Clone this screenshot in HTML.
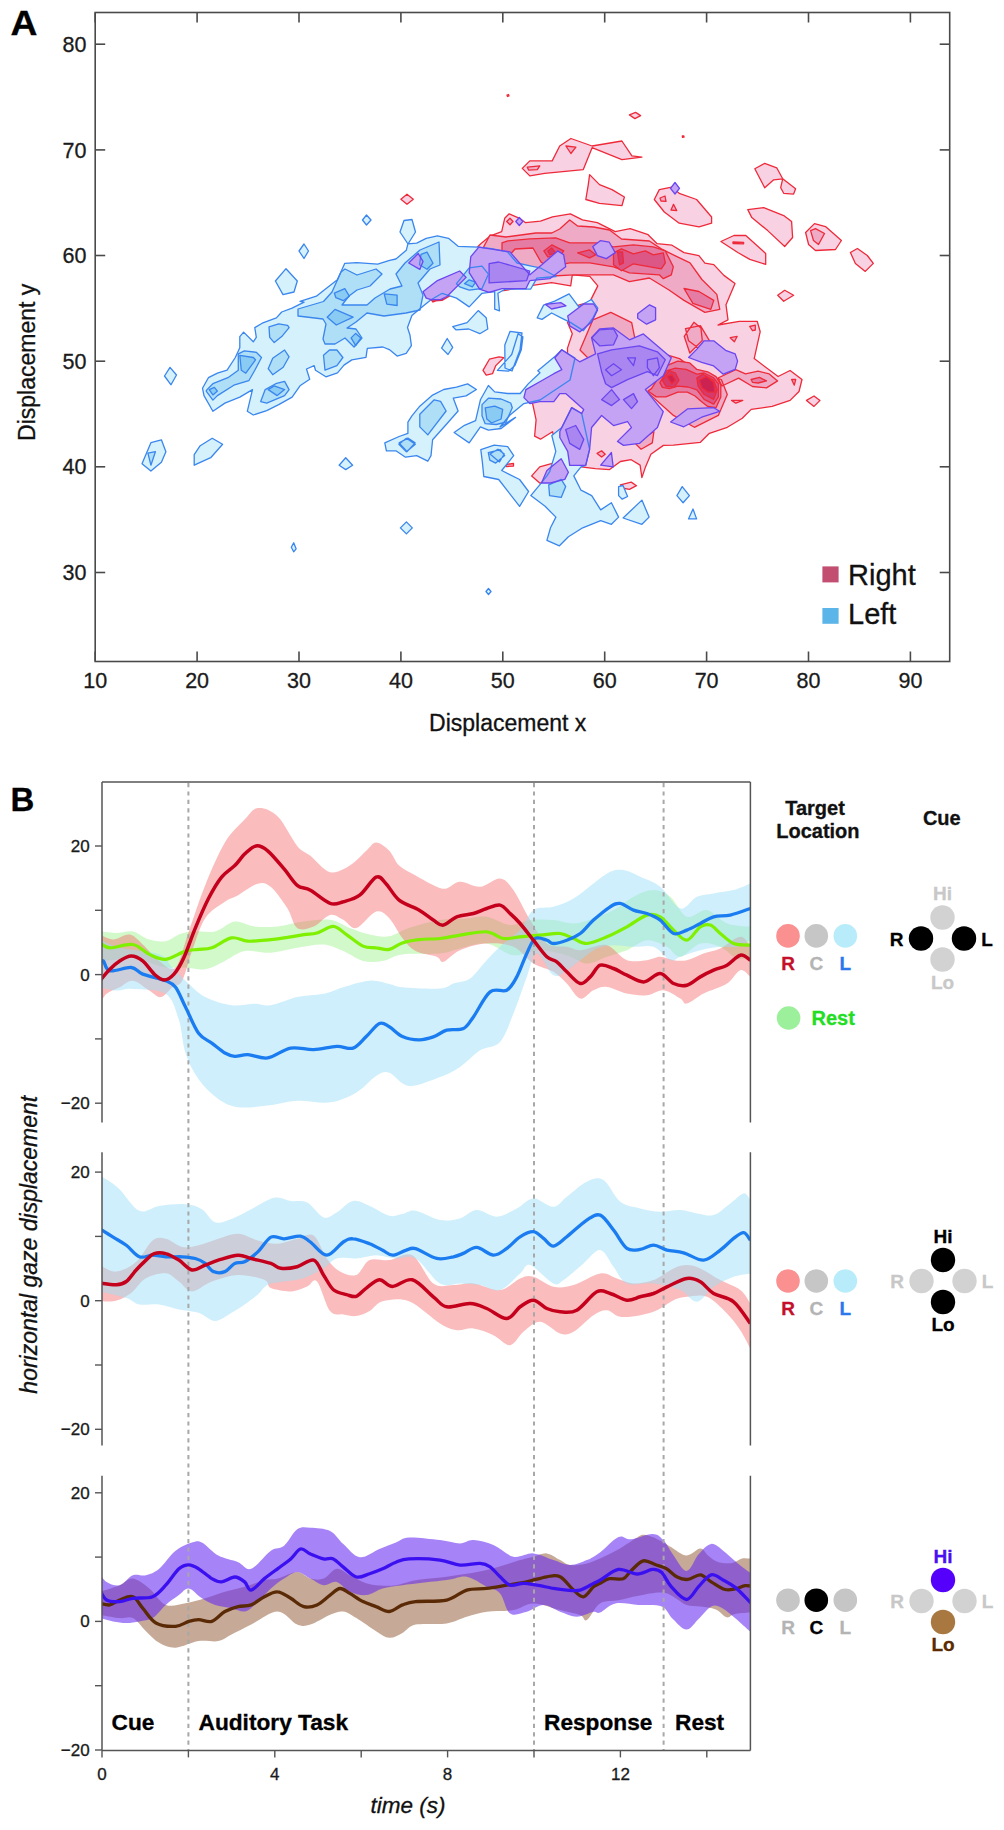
<!DOCTYPE html><html><head><meta charset="utf-8"><style>html,body{margin:0;padding:0;background:#fff;width:1004px;height:1830px;overflow:hidden;position:relative}</style></head><body><svg width="1004" height="1830" viewBox="0 0 1004 1830" style="position:absolute;left:0;top:0">
<rect width="1004" height="1830" fill="#fff"/>
<g id="contours">
<path d="M480.8,243.7 L489.8,236.2 L501.7,231.7 L504.7,218.3 L509.2,213.8 L519.6,218.3 L525.6,222.7 L540.5,221.2 L552.5,216.8 L570.4,213.8 L582.4,219.8 L597.3,222.7 L615.2,231.7 L630.2,228.7 L648.1,234.7 L657.1,243.7 L672.0,245.2 L684.0,252.6 L698.9,255.6 L704.9,263.1 L713.8,264.6 L723.9,275.4 L735.0,283.5 L726.0,304.8 L728.0,319.8 L718.0,325.0 L739.3,321.3 L757.2,321.3 L760.2,331.7 L754.2,358.6 L778.1,376.5 L790.1,370.5 L802.0,379.5 L799.0,391.5 L790.1,400.4 L772.1,406.4 L751.2,409.4 L742.3,418.3 L727.3,427.3 L709.4,433.3 L700.4,442.3 L673.5,445.2 L663.4,445.4 L650.9,454.3 L645.5,466.9 L641.9,477.6 L640.1,465.1 L631.2,459.7 L620.4,461.5 L609.6,469.6 L595.3,468.7 L581.0,466.9 L560.0,462.0 L552.5,431.7 L540.5,439.2 L534.6,436.2 L536.1,419.8 L531.6,398.8 L545.0,385.0 L560.0,362.0 L567.5,356.1 L567.5,348.1 L572.3,333.7 L567.5,322.6 L578.6,305.1 L589.8,301.9 L597.8,285.9 L589.8,276.4 L572.3,274.8 L570.7,285.9 L551.6,282.7 L529.2,285.9 L503.7,290.7 L480.8,288.5 L460.0,290.0 L442.0,300.4 L432.0,301.0 L426.0,292.0 L440.0,280.0 L462.0,262.0Z M522.3,168.4 L529.8,160.9 L552.2,160.9 L559.7,146.0 L570.9,138.5 L592.1,146.0 L621.9,141.0 L631.9,155.9 L641.9,157.2 L621.9,159.7 L592.1,147.7 L583.3,169.6 L544.7,173.4 L529.8,175.9Z M589.6,174.6 L599.5,184.6 L612.0,189.6 L624.4,197.0 L621.9,205.7 L599.5,203.3 L585.8,199.5 L588.3,184.6Z M659.3,189.6 L671.7,187.1 L679.2,193.3 L696.6,199.5 L711.6,217.0 L711.6,223.2 L699.1,226.9 L679.2,223.2 L664.3,212.0 L654.3,199.5Z M629.4,114.9 L635.6,112.4 L640.6,115.6 L634.9,118.6Z M754.8,168.8 L764.7,163.4 L776.7,167.8 L782.7,178.8 L773.7,179.8 L764.7,187.7Z M782.7,178.8 L795.6,188.7 L793.6,194.1 L783.7,193.3 L780.7,187.7Z M747.8,209.6 L763.7,207.6 L783.7,215.6 L791.6,221.6 L792.6,237.5 L784.7,246.5 L767.7,230.6 L751.8,217.6Z M720.9,241.5 L733.9,235.5 L745.8,235.5 L765.7,253.5 L765.7,264.4 L749.8,259.4 L737.8,252.5Z M805.6,232.5 L814.5,223.6 L825.5,226.6 L841.4,240.5 L835.5,249.5 L815.5,250.5 L808.6,244.5Z M850.4,252.5 L857.4,248.5 L867.3,255.5 L873.3,263.4 L865.3,271.4 L855.4,263.4Z M777.7,295.3 L784.7,290.3 L793.6,295.3 L783.7,301.3Z M806.5,400.4 L814.0,396.0 L820.0,400.4 L814.0,406.4Z M400.9,199.2 L407.0,194.2 L413.3,199.2 L407.0,204.2Z M483.0,370.4 L489.4,359.2 L499.0,356.9 L503.7,357.7 L495.8,365.6 L492.6,373.6 L486.2,375.2Z M428.0,296.0 L436.0,288.0 L446.0,292.0 L442.0,299.0 L433.0,302.0Z M531.7,475.9 L539.7,466.9 L552.3,463.3 L568.4,472.3 L550.5,483.0 L539.7,483.0Z M620.4,484.8 L631.2,482.1 L636.5,485.7 L629.4,489.3 L622.0,488.0Z M506.0,464.5 L513.5,463.5 L513.5,466.0 L506.0,466.5Z" fill="#f8d2e2" fill-rule="nonzero" stroke="#ee2a3a" stroke-width="1.3" stroke-linejoin="round"/>
<path d="M483.8,246.6 L490.0,235.0 L506.0,237.0 L535.8,233.0 L551.8,233.0 L559.7,229.0 L569.7,220.0 L577.6,226.0 L593.6,227.0 L609.5,230.0 L621.5,239.0 L649.4,241.0 L661.3,248.9 L673.3,254.8 L690.0,262.8 L701.9,279.5 L716.8,294.4 L719.8,309.4 L704.9,312.4 L684.0,300.4 L669.0,290.0 L649.4,278.0 L629.4,281.7 L613.5,274.8 L573.7,274.8 L543.5,276.5 L509.9,284.0 L489.8,286.0 L472.0,288.0Z M592.9,319.8 L610.8,312.3 L631.7,322.7 L634.7,337.7 L649.6,349.6 L679.5,358.6 L700.4,373.5 L721.3,379.5 L727.3,394.4 L718.3,415.4 L694.4,427.3 L673.5,415.4 L646.6,391.5 L630.0,380.0 L600.0,370.0 L580.0,350.0Z M685.5,328.7 L700.4,325.7 L709.4,340.7 L700.4,349.6 L688.5,340.7Z M735.8,369.7 L745.5,373.9 L758.1,371.1 L769.2,373.9 L777.6,380.9 L766.5,387.9 L752.5,386.5 L738.6,378.1 L722.0,386.0 L718.0,378.0Z M684.2,336.3 L693.9,322.3 L700.9,327.9 L702.3,340.4 L689.8,353.0Z M749.7,326.5 L755.3,325.1 L755.3,330.0 L752.5,330.7Z M730.2,337.7 L737.2,336.3 L734.4,341.8Z M731.6,400.4 L742.8,400.4 L735.8,403.2Z M791.6,379.5 L795.7,379.5 L794.3,385.1Z M634.7,442.9 L653.9,431.7 L652.3,442.9 L641.1,449.2Z M597.1,453.4 L601.6,450.8 L605.2,454.3 L601.6,457.0Z M810.6,230.6 L815.5,228.6 L824.5,233.5 L818.5,244.5 L813.5,240.5Z M565.9,146.0 L575.9,147.2 L570.9,153.5Z M527.3,167.2 L539.8,165.9 L537.3,169.6 L528.6,170.1Z M506.7,221.5 L510.0,218.3 L513.0,221.5 L510.0,224.7Z M660.0,198.0 L665.0,196.0 L666.0,201.4 L661.0,201.0Z M671.0,210.0 L673.5,204.3 L676.7,210.6Z M733.0,242.0 L743.6,242.3 L743.6,243.8 L733.0,243.5Z M507.0,95.0 L508.5,94.5 L509.0,96.0 L507.5,96.5Z M682.3,136.0 L683.8,135.8 L684.0,137.2 L682.5,137.4Z" fill="#efaac5" fill-rule="nonzero" stroke="#ee2a3a" stroke-width="1.3" stroke-linejoin="round"/>
<path d="M751.1,379.5 L759.5,377.4 L766.5,380.9 L758.1,383.0 L752.5,382.3Z M502.0,242.9 L507.9,240.9 L529.8,238.9 L555.7,237.9 L569.7,242.9 L583.6,242.9 L597.6,242.9 L613.5,246.9 L633.4,244.9 L653.3,246.9 L665.3,250.9 L673.3,266.8 L671.3,274.8 L663.3,278.7 L659.3,274.8 L629.4,272.8 L613.5,266.8 L589.6,262.8 L569.7,262.8 L559.7,264.8 L547.8,266.8 L541.0,262.0 L533.0,248.0 L515.0,249.0 L509.9,254.8 L502.0,252.8Z M684.0,288.5 L698.9,291.5 L713.8,300.4 L710.8,309.4 L692.9,303.4Z M651.5,388.6 L665.9,365.9 L677.8,361.1 L689.8,362.9 L696.9,369.4 L707.7,371.8 L716.0,376.6 L720.8,385.0 L720.8,396.9 L716.0,407.7 L707.7,406.5 L701.7,401.7 L695.0,396.0 L687.4,392.1 L677.8,392.1 L665.9,396.9 L656.3,396.9 L647.9,391.0Z" fill="#e57ca3" fill-rule="nonzero" stroke="#ee2a3a" stroke-width="1.3" stroke-linejoin="round"/>
<path d="M543.8,250.9 L551.8,244.9 L563.7,250.9 L559.7,256.8 L547.8,256.8Z M577.6,252.8 L589.6,249.9 L595.6,254.8 L589.6,257.8Z M613.5,252.8 L621.5,248.9 L633.4,253.8 L645.4,250.9 L653.3,254.8 L663.3,252.8 L665.3,262.8 L661.3,268.8 L633.4,263.8 L621.5,270.8 L613.5,264.8Z M659.9,382.6 L667.0,370.6 L675.4,368.2 L686.2,369.4 L696.9,374.2 L704.1,373.0 L713.7,377.8 L718.4,383.8 L718.4,396.9 L713.7,404.1 L704.1,399.3 L696.9,389.8 L688.0,387.0 L677.8,386.2 L669.4,388.6 L662.3,387.4Z" fill="#dc5686" fill-rule="nonzero" stroke="#ee2a3a" stroke-width="1.3" stroke-linejoin="round"/>
<path d="M547.8,250.9 L551.8,247.9 L555.7,252.8 L549.8,254.8Z M617.5,251.9 L622.5,251.9 L623.5,262.8 L619.5,264.8Z M662.3,380.2 L669.4,370.6 L675.4,373.0 L679.0,380.2 L674.2,387.4 L665.9,386.2Z M696.9,377.8 L702.9,374.2 L713.7,380.2 L717.2,389.8 L713.7,399.3 L704.1,394.5 L698.1,386.2Z" fill="#d43a6c" fill-rule="nonzero" stroke="#ee2a3a" stroke-width="1.3" stroke-linejoin="round"/>
<path d="M699.3,380.2 L706.5,376.6 L713.7,382.6 L714.9,392.1 L707.7,392.1 L701.7,387.4Z M667.0,376.6 L671.8,374.2 L675.4,380.2 L671.8,383.8Z" fill="#cc2252" fill-rule="nonzero" stroke="#ee2a3a" stroke-width="1.3" stroke-linejoin="round"/>
<path d="M212.9,411.3 L204.0,395.6 L202.5,388.2 L208.4,377.7 L217.4,373.2 L227.1,370.2 L235.3,357.5 L239.8,347.8 L239.8,336.6 L243.6,332.1 L253.3,341.8 L256.3,337.4 L254.8,327.6 L262.2,323.2 L276.4,317.9 L281.7,312.0 L292.1,308.2 L304.1,302.2 L300.0,301.4 L316.4,296.2 L323.9,290.2 L337.4,279.8 L344.8,263.3 L356.8,262.6 L377.7,264.1 L389.6,260.3 L395.9,259.0 L406.3,250.3 L407.9,243.9 L416.7,243.1 L426.2,238.3 L437.4,235.9 L448.5,238.3 L458.1,246.3 L478.8,247.1 L491.6,248.7 L507.5,251.9 L517.1,263.0 L531.4,266.2 L540.0,267.8 L556.0,276.5 L536.9,278.1 L530.6,289.2 L505.1,289.2 L497.9,293.3 L499.5,310.8 L494.7,309.2 L494.7,291.7 L482.0,293.3 L469.2,306.9 L456.5,298.1 L442.2,293.3 L431.0,299.7 L421.4,307.6 L411.9,315.6 L407.5,327.5 L410.0,335.3 L411.4,345.7 L406.2,353.4 L397.1,356.0 L389.3,349.6 L382.9,347.0 L367.3,348.3 L366.0,357.3 L351.8,359.9 L344.0,365.1 L337.5,372.9 L325.9,376.8 L315.5,370.3 L314.2,365.7 L306.5,369.0 L309.7,379.3 L300.0,385.8 L292.1,397.1 L278.7,404.6 L266.7,410.6 L253.3,415.0 L247.3,411.3 L252.5,389.6 L239.8,397.1 L224.9,403.1Z M275.4,281.0 L286.0,268.7 L297.3,281.0 L294.0,292.0 L283.0,294.6Z M299.0,251.0 L304.0,244.0 L308.5,251.0 L304.0,258.5Z M362.5,220.0 L366.5,215.0 L371.0,220.0 L366.5,225.0Z M400.0,232.0 L404.0,220.5 L412.0,219.5 L415.5,232.0 L408.0,244.0Z M142.0,463.7 L150.9,442.7 L161.4,439.8 L165.9,451.7 L161.4,462.2 L150.9,471.1Z M194.2,454.7 L200.2,445.7 L212.2,438.3 L222.6,444.2 L210.7,457.7 L194.2,465.2Z M339.1,465.2 L345.7,457.7 L352.6,465.2 L345.7,469.6Z M400.4,527.9 L406.4,521.9 L412.3,527.9 L406.4,533.9Z M291.3,547.3 L293.7,542.8 L296.1,548.8 L293.7,551.8Z M164.5,376.0 L170.0,367.4 L176.5,375.0 L171.0,384.8Z M486.0,591.5 L488.5,588.5 L491.0,591.5 L488.5,594.5Z M384.8,442.9 L399.1,436.5 L407.9,433.3 L407.9,422.2 L411.9,415.8 L419.8,406.2 L432.6,395.1 L443.7,389.5 L456.5,387.1 L467.6,383.9 L476.4,389.5 L466.1,395.9 L453.3,398.2 L458.1,411.0 L446.9,423.7 L432.6,439.7 L431.0,455.6 L427.8,461.2 L416.7,455.6 L405.5,457.2 L395.9,450.8 L386.4,450.8Z M454.1,432.5 L464.5,425.3 L475.6,420.6 L480.4,399.8 L488.4,385.5 L494.7,391.9 L507.5,393.5 L520.2,393.5 L528.2,383.9 L540.0,372.7 L537.8,370.7 L555.8,355.8 L561.8,349.8 L575.0,358.0 L570.0,380.0 L540.0,400.0 L523.9,403.6 L510.0,415.0 L500.0,427.0 L515.5,417.4 L501.1,428.5 L488.4,430.1 L480.4,426.9 L469.2,442.9Z M480.8,449.6 L494.2,445.2 L507.7,446.6 L513.7,455.6 L501.7,470.5 L519.6,479.5 L528.6,491.5 L519.6,506.4 L498.7,479.5 L483.8,476.5 L482.3,461.6Z M452.7,326.6 L467.1,322.6 L478.2,310.6 L486.2,317.8 L487.8,329.0 L479.8,333.7 L468.7,329.0 L455.9,329.8Z M441.6,348.1 L447.2,338.5 L452.7,347.3 L448.0,354.5Z M497.4,370.4 L511.7,354.5 L518.1,333.7 L522.9,336.9 L521.3,349.7 L514.9,365.6 L508.5,371.2Z M537.2,317.8 L543.6,305.1 L554.7,301.1 L569.1,293.9 L578.6,306.7 L591.4,299.5 L597.8,308.2 L593.0,317.8 L583.4,330.6 L570.7,322.6 L561.1,317.8 L551.6,313.0 L542.0,319.4Z M504.8,345.0 L510.0,331.4 L522.0,333.0 L520.0,350.0 L512.0,371.0 L505.0,368.0Z M561.8,427.5 L571.7,407.6 L581.7,413.5 L589.6,449.4 L585.7,465.3 L581.0,466.9 L573.8,475.9 L581.0,490.2 L591.7,495.6 L600.7,509.9 L611.4,502.7 L618.6,517.1 L611.4,524.3 L600.7,520.7 L582.7,527.8 L568.4,536.8 L559.4,545.8 L546.9,540.4 L550.5,527.8 L555.9,517.1 L545.1,506.3 L530.8,495.6 L539.7,484.8 L546.9,475.9 L549.8,471.3 L555.8,451.4 L551.8,435.5Z M618.6,486.6 L623.0,485.5 L627.6,496.5 L622.2,499.2 L618.6,495.6Z M623.1,518.0 L641.9,500.1 L649.1,517.1 L641.9,524.3Z M676.9,495.6 L682.2,486.6 L689.4,495.6 L683.1,502.7Z M688.5,518.9 L693.0,509.0 L696.6,518.9Z" fill="#d5f1fb" fill-rule="nonzero"/>
<path d="M207.0,389.6 L212.9,383.7 L227.9,377.7 L238.3,370.2 L238.3,353.8 L244.3,350.8 L256.3,352.3 L261.5,357.5 L254.8,370.2 L248.8,380.7 L233.8,385.2 L217.4,395.6 L212.9,400.1 L206.2,391.1Z M269.0,326.9 L278.7,323.9 L287.6,325.4 L289.1,327.6 L281.7,336.6 L274.2,342.6 L269.7,337.4Z M268.2,368.7 L272.7,358.3 L284.6,350.0 L289.1,356.8 L283.2,367.2 L272.7,374.7Z M260.7,401.6 L265.2,389.6 L275.7,383.7 L284.6,381.4 L289.1,389.6 L284.6,395.6 L266.7,403.1Z M323.5,355.3 L329.5,350.0 L336.9,350.0 L342.9,357.5 L336.9,365.7 L325.0,370.2Z M298.0,309.0 L323.5,301.5 L332.0,292.0 L341.0,272.0 L345.0,269.0 L357.0,275.0 L376.0,269.0 L382.0,274.0 L370.0,286.0 L357.0,290.0 L349.0,296.0 L342.0,305.0 L367.0,305.0 L375.0,298.0 L390.0,289.0 L402.0,286.0 L396.0,274.0 L405.0,263.0 L420.0,250.0 L439.0,242.0 L440.0,265.0 L430.0,269.0 L418.0,283.0 L423.0,295.0 L420.0,310.0 L406.0,313.0 L384.0,316.0 L367.0,313.0 L356.0,322.0 L347.0,328.0 L356.0,329.0 L362.0,338.0 L354.0,347.0 L345.0,338.0 L335.0,344.0 L325.0,344.0 L323.0,339.0 L326.0,324.0 L323.0,319.0 L298.0,316.0Z M456.5,283.7 L469.2,267.8 L482.0,266.2 L488.4,274.2 L482.0,288.5 L469.2,290.1 L459.7,286.9Z M419.8,414.2 L434.2,399.8 L440.6,401.4 L446.1,411.0 L427.8,434.9 L419.8,426.9Z M399.1,442.9 L407.9,438.1 L415.1,442.9 L407.1,451.6Z M482.0,404.6 L488.4,398.2 L501.1,399.0 L510.7,403.0 L512.3,407.8 L505.9,422.2 L496.3,424.5 L485.2,423.7 L482.0,415.8Z M490.0,454.0 L497.9,449.2 L504.3,454.0 L499.5,462.0Z M488.3,452.6 L500.2,449.6 L504.7,455.6 L495.7,463.1 L489.8,460.1Z M398.9,444.2 L406.4,438.3 L415.3,444.2 L406.4,451.7Z M548.7,484.8 L561.2,479.4 L565.7,486.6 L561.2,497.4 L549.6,495.6Z M147.9,453.2 L155.4,451.7 L150.9,465.2Z" fill="#afdef7" fill-rule="nonzero"/>
<path d="M327.2,317.2 L335.0,309.4 L353.1,317.2 L336.3,325.0Z M351.1,337.9 L355.7,333.4 L360.9,337.9 L355.7,345.7Z M384.2,293.9 L397.1,295.2 L397.1,305.5 L386.8,304.2Z M334.4,293.2 L344.8,288.7 L349.3,296.2 L343.3,300.7 L335.9,297.7Z M421.0,254.4 L427.0,252.1 L433.0,263.3 L427.0,269.3 L419.5,264.8Z M239.8,355.3 L253.3,357.5 L255.5,359.8 L245.8,373.2 L241.3,370.2Z M209.2,389.6 L214.4,387.4 L217.4,391.1 L212.9,394.9Z M268.2,389.6 L274.2,385.9 L284.6,389.6 L277.2,395.6Z M485.2,407.8 L494.7,406.2 L502.7,409.4 L501.1,419.0 L491.6,423.0 L486.8,419.0Z M464.5,283.7 L469.2,279.8 L475.6,282.2 L472.4,286.9Z" fill="#89cbf2" fill-rule="nonzero"/>
<path d="M470.8,256.7 L478.8,247.1 L490.0,248.9 L509.9,251.9 L529.8,274.8 L541.8,264.8 L557.7,250.9 L563.7,254.8 L565.7,266.8 L549.8,278.7 L529.8,280.7 L525.9,288.7 L502.0,288.7 L489.1,292.4 L479.6,289.2 L469.2,272.6Z M423.0,291.7 L437.4,280.6 L459.7,271.0 L466.1,277.4 L446.9,296.5 L440.6,299.7 L431.0,299.7 L426.2,298.1Z M408.7,263.0 L418.2,253.5 L423.0,261.4 L419.8,269.4Z M523.9,397.6 L525.9,389.6 L539.8,381.7 L553.8,373.7 L561.8,369.7 L554.8,357.8 L561.8,349.8 L579.7,361.8 L595.6,353.8 L591.6,337.8 L599.6,328.9 L613.5,327.9 L629.5,339.8 L643.4,333.9 L671.3,357.8 L663.3,375.7 L645.4,389.6 L663.3,411.6 L657.4,427.5 L639.4,443.4 L623.5,445.4 L617.5,441.4 L631.5,427.5 L627.5,421.5 L613.5,425.5 L601.6,415.5 L591.6,427.5 L589.6,449.4 L585.7,465.3 L569.7,465.3 L567.7,451.4 L559.8,437.5 L559.8,431.5 L569.7,411.6 L571.7,407.6 L581.7,413.5 L583.7,409.6 L565.7,393.6 L559.8,393.6 L553.8,401.6 L539.8,401.6 L529.9,403.6Z M567.7,315.9 L583.7,304.0 L593.6,304.0 L597.6,310.0 L591.6,321.9 L579.7,331.9 L569.7,325.9Z M545.2,304.3 L561.1,302.7 L565.9,305.9 L551.6,309.0Z M637.7,313.8 L649.6,304.8 L655.6,307.8 L655.6,319.8 L646.6,324.2 L637.7,318.3Z M688.6,357.5 L696.9,349.1 L704.1,340.8 L713.7,340.8 L725.6,350.3 L735.2,353.9 L737.6,361.1 L735.2,369.4 L723.2,374.2 L713.7,365.9 L701.7,362.3Z M670.6,422.0 L687.4,408.9 L713.7,407.7 L719.6,411.3 L701.7,417.2 L683.8,426.8Z M592.8,246.6 L600.3,240.7 L609.3,242.2 L615.2,252.6 L606.3,258.6 L597.3,255.6Z M541.5,483.0 L546.9,470.5 L561.2,458.8 L568.4,472.3 L564.8,479.4 L550.5,483.0Z M600.7,465.1 L611.4,452.5 L613.2,466.9Z M670.5,188.3 L675.0,182.5 L679.5,188.3 L675.0,194.0Z M515.8,221.5 L519.3,217.5 L522.8,221.5 L519.3,225.5Z" fill="#c4a2f4" fill-rule="nonzero"/>
<path d="M489.1,263.7 L498.7,262.0 L529.8,271.0 L526.6,280.6 L489.1,282.9Z M591.6,337.8 L599.6,329.9 L613.5,328.9 L617.5,335.9 L613.5,344.8 L599.6,345.8Z M597.6,353.8 L611.6,349.8 L639.4,345.8 L657.4,351.8 L665.3,359.8 L657.4,375.7 L647.4,371.7 L627.5,379.7 L611.6,387.6 L605.6,383.7 L601.6,371.7Z M601.6,399.6 L611.6,389.6 L619.5,399.6 L611.6,405.6Z M623.5,399.6 L633.5,393.6 L637.5,401.6 L631.5,408.6Z M565.7,429.5 L575.7,425.5 L583.7,439.4 L579.7,449.4 L569.7,443.4Z M605.6,369.7 L613.5,363.7 L621.5,369.7 L611.6,375.7Z M627.5,357.8 L635.5,357.8 L633.5,365.7Z M647.4,359.8 L657.4,357.8 L659.4,367.7 L653.4,375.7 L647.4,367.7Z" fill="#a986f0" fill-rule="nonzero" stroke="#6a46f0" stroke-width="1.3" stroke-linejoin="round"/>
<path d="M212.9,411.3 L204.0,395.6 L202.5,388.2 L208.4,377.7 L217.4,373.2 L227.1,370.2 L235.3,357.5 L239.8,347.8 L239.8,336.6 L243.6,332.1 L253.3,341.8 L256.3,337.4 L254.8,327.6 L262.2,323.2 L276.4,317.9 L281.7,312.0 L292.1,308.2 L304.1,302.2 L300.0,301.4 L316.4,296.2 L323.9,290.2 L337.4,279.8 L344.8,263.3 L356.8,262.6 L377.7,264.1 L389.6,260.3 L395.9,259.0 L406.3,250.3 L407.9,243.9 L416.7,243.1 L426.2,238.3 L437.4,235.9 L448.5,238.3 L458.1,246.3 L478.8,247.1 L491.6,248.7 L507.5,251.9 L517.1,263.0 L531.4,266.2 L540.0,267.8 L556.0,276.5 L536.9,278.1 L530.6,289.2 L505.1,289.2 L497.9,293.3 L499.5,310.8 L494.7,309.2 L494.7,291.7 L482.0,293.3 L469.2,306.9 L456.5,298.1 L442.2,293.3 L431.0,299.7 L421.4,307.6 L411.9,315.6 L407.5,327.5 L410.0,335.3 L411.4,345.7 L406.2,353.4 L397.1,356.0 L389.3,349.6 L382.9,347.0 L367.3,348.3 L366.0,357.3 L351.8,359.9 L344.0,365.1 L337.5,372.9 L325.9,376.8 L315.5,370.3 L314.2,365.7 L306.5,369.0 L309.7,379.3 L300.0,385.8 L292.1,397.1 L278.7,404.6 L266.7,410.6 L253.3,415.0 L247.3,411.3 L252.5,389.6 L239.8,397.1 L224.9,403.1Z M275.4,281.0 L286.0,268.7 L297.3,281.0 L294.0,292.0 L283.0,294.6Z M299.0,251.0 L304.0,244.0 L308.5,251.0 L304.0,258.5Z M362.5,220.0 L366.5,215.0 L371.0,220.0 L366.5,225.0Z M400.0,232.0 L404.0,220.5 L412.0,219.5 L415.5,232.0 L408.0,244.0Z M142.0,463.7 L150.9,442.7 L161.4,439.8 L165.9,451.7 L161.4,462.2 L150.9,471.1Z M194.2,454.7 L200.2,445.7 L212.2,438.3 L222.6,444.2 L210.7,457.7 L194.2,465.2Z M339.1,465.2 L345.7,457.7 L352.6,465.2 L345.7,469.6Z M400.4,527.9 L406.4,521.9 L412.3,527.9 L406.4,533.9Z M291.3,547.3 L293.7,542.8 L296.1,548.8 L293.7,551.8Z M164.5,376.0 L170.0,367.4 L176.5,375.0 L171.0,384.8Z M486.0,591.5 L488.5,588.5 L491.0,591.5 L488.5,594.5Z M384.8,442.9 L399.1,436.5 L407.9,433.3 L407.9,422.2 L411.9,415.8 L419.8,406.2 L432.6,395.1 L443.7,389.5 L456.5,387.1 L467.6,383.9 L476.4,389.5 L466.1,395.9 L453.3,398.2 L458.1,411.0 L446.9,423.7 L432.6,439.7 L431.0,455.6 L427.8,461.2 L416.7,455.6 L405.5,457.2 L395.9,450.8 L386.4,450.8Z M454.1,432.5 L464.5,425.3 L475.6,420.6 L480.4,399.8 L488.4,385.5 L494.7,391.9 L507.5,393.5 L520.2,393.5 L528.2,383.9 L540.0,372.7 L537.8,370.7 L555.8,355.8 L561.8,349.8 L575.0,358.0 L570.0,380.0 L540.0,400.0 L523.9,403.6 L510.0,415.0 L500.0,427.0 L515.5,417.4 L501.1,428.5 L488.4,430.1 L480.4,426.9 L469.2,442.9Z M480.8,449.6 L494.2,445.2 L507.7,446.6 L513.7,455.6 L501.7,470.5 L519.6,479.5 L528.6,491.5 L519.6,506.4 L498.7,479.5 L483.8,476.5 L482.3,461.6Z M452.7,326.6 L467.1,322.6 L478.2,310.6 L486.2,317.8 L487.8,329.0 L479.8,333.7 L468.7,329.0 L455.9,329.8Z M441.6,348.1 L447.2,338.5 L452.7,347.3 L448.0,354.5Z M497.4,370.4 L511.7,354.5 L518.1,333.7 L522.9,336.9 L521.3,349.7 L514.9,365.6 L508.5,371.2Z M537.2,317.8 L543.6,305.1 L554.7,301.1 L569.1,293.9 L578.6,306.7 L591.4,299.5 L597.8,308.2 L593.0,317.8 L583.4,330.6 L570.7,322.6 L561.1,317.8 L551.6,313.0 L542.0,319.4Z M504.8,345.0 L510.0,331.4 L522.0,333.0 L520.0,350.0 L512.0,371.0 L505.0,368.0Z M561.8,427.5 L571.7,407.6 L581.7,413.5 L589.6,449.4 L585.7,465.3 L581.0,466.9 L573.8,475.9 L581.0,490.2 L591.7,495.6 L600.7,509.9 L611.4,502.7 L618.6,517.1 L611.4,524.3 L600.7,520.7 L582.7,527.8 L568.4,536.8 L559.4,545.8 L546.9,540.4 L550.5,527.8 L555.9,517.1 L545.1,506.3 L530.8,495.6 L539.7,484.8 L546.9,475.9 L549.8,471.3 L555.8,451.4 L551.8,435.5Z M618.6,486.6 L623.0,485.5 L627.6,496.5 L622.2,499.2 L618.6,495.6Z M623.1,518.0 L641.9,500.1 L649.1,517.1 L641.9,524.3Z M676.9,495.6 L682.2,486.6 L689.4,495.6 L683.1,502.7Z M688.5,518.9 L693.0,509.0 L696.6,518.9Z" fill="none" fill-rule="nonzero" stroke="#3a86ee" stroke-width="1.3" stroke-linejoin="round"/>
<path d="M207.0,389.6 L212.9,383.7 L227.9,377.7 L238.3,370.2 L238.3,353.8 L244.3,350.8 L256.3,352.3 L261.5,357.5 L254.8,370.2 L248.8,380.7 L233.8,385.2 L217.4,395.6 L212.9,400.1 L206.2,391.1Z M269.0,326.9 L278.7,323.9 L287.6,325.4 L289.1,327.6 L281.7,336.6 L274.2,342.6 L269.7,337.4Z M268.2,368.7 L272.7,358.3 L284.6,350.0 L289.1,356.8 L283.2,367.2 L272.7,374.7Z M260.7,401.6 L265.2,389.6 L275.7,383.7 L284.6,381.4 L289.1,389.6 L284.6,395.6 L266.7,403.1Z M323.5,355.3 L329.5,350.0 L336.9,350.0 L342.9,357.5 L336.9,365.7 L325.0,370.2Z M298.0,309.0 L323.5,301.5 L332.0,292.0 L341.0,272.0 L345.0,269.0 L357.0,275.0 L376.0,269.0 L382.0,274.0 L370.0,286.0 L357.0,290.0 L349.0,296.0 L342.0,305.0 L367.0,305.0 L375.0,298.0 L390.0,289.0 L402.0,286.0 L396.0,274.0 L405.0,263.0 L420.0,250.0 L439.0,242.0 L440.0,265.0 L430.0,269.0 L418.0,283.0 L423.0,295.0 L420.0,310.0 L406.0,313.0 L384.0,316.0 L367.0,313.0 L356.0,322.0 L347.0,328.0 L356.0,329.0 L362.0,338.0 L354.0,347.0 L345.0,338.0 L335.0,344.0 L325.0,344.0 L323.0,339.0 L326.0,324.0 L323.0,319.0 L298.0,316.0Z M456.5,283.7 L469.2,267.8 L482.0,266.2 L488.4,274.2 L482.0,288.5 L469.2,290.1 L459.7,286.9Z M419.8,414.2 L434.2,399.8 L440.6,401.4 L446.1,411.0 L427.8,434.9 L419.8,426.9Z M399.1,442.9 L407.9,438.1 L415.1,442.9 L407.1,451.6Z M482.0,404.6 L488.4,398.2 L501.1,399.0 L510.7,403.0 L512.3,407.8 L505.9,422.2 L496.3,424.5 L485.2,423.7 L482.0,415.8Z M490.0,454.0 L497.9,449.2 L504.3,454.0 L499.5,462.0Z M488.3,452.6 L500.2,449.6 L504.7,455.6 L495.7,463.1 L489.8,460.1Z M398.9,444.2 L406.4,438.3 L415.3,444.2 L406.4,451.7Z M548.7,484.8 L561.2,479.4 L565.7,486.6 L561.2,497.4 L549.6,495.6Z M147.9,453.2 L155.4,451.7 L150.9,465.2Z" fill="none" fill-rule="nonzero" stroke="#3a86ee" stroke-width="1.3" stroke-linejoin="round"/>
<path d="M327.2,317.2 L335.0,309.4 L353.1,317.2 L336.3,325.0Z M351.1,337.9 L355.7,333.4 L360.9,337.9 L355.7,345.7Z M384.2,293.9 L397.1,295.2 L397.1,305.5 L386.8,304.2Z M334.4,293.2 L344.8,288.7 L349.3,296.2 L343.3,300.7 L335.9,297.7Z M421.0,254.4 L427.0,252.1 L433.0,263.3 L427.0,269.3 L419.5,264.8Z M239.8,355.3 L253.3,357.5 L255.5,359.8 L245.8,373.2 L241.3,370.2Z M209.2,389.6 L214.4,387.4 L217.4,391.1 L212.9,394.9Z M268.2,389.6 L274.2,385.9 L284.6,389.6 L277.2,395.6Z M485.2,407.8 L494.7,406.2 L502.7,409.4 L501.1,419.0 L491.6,423.0 L486.8,419.0Z M464.5,283.7 L469.2,279.8 L475.6,282.2 L472.4,286.9Z" fill="none" fill-rule="nonzero" stroke="#3a86ee" stroke-width="1.3" stroke-linejoin="round"/>
<path d="M470.8,256.7 L478.8,247.1 L490.0,248.9 L509.9,251.9 L529.8,274.8 L541.8,264.8 L557.7,250.9 L563.7,254.8 L565.7,266.8 L549.8,278.7 L529.8,280.7 L525.9,288.7 L502.0,288.7 L489.1,292.4 L479.6,289.2 L469.2,272.6Z M423.0,291.7 L437.4,280.6 L459.7,271.0 L466.1,277.4 L446.9,296.5 L440.6,299.7 L431.0,299.7 L426.2,298.1Z M408.7,263.0 L418.2,253.5 L423.0,261.4 L419.8,269.4Z M523.9,397.6 L525.9,389.6 L539.8,381.7 L553.8,373.7 L561.8,369.7 L554.8,357.8 L561.8,349.8 L579.7,361.8 L595.6,353.8 L591.6,337.8 L599.6,328.9 L613.5,327.9 L629.5,339.8 L643.4,333.9 L671.3,357.8 L663.3,375.7 L645.4,389.6 L663.3,411.6 L657.4,427.5 L639.4,443.4 L623.5,445.4 L617.5,441.4 L631.5,427.5 L627.5,421.5 L613.5,425.5 L601.6,415.5 L591.6,427.5 L589.6,449.4 L585.7,465.3 L569.7,465.3 L567.7,451.4 L559.8,437.5 L559.8,431.5 L569.7,411.6 L571.7,407.6 L581.7,413.5 L583.7,409.6 L565.7,393.6 L559.8,393.6 L553.8,401.6 L539.8,401.6 L529.9,403.6Z M567.7,315.9 L583.7,304.0 L593.6,304.0 L597.6,310.0 L591.6,321.9 L579.7,331.9 L569.7,325.9Z M545.2,304.3 L561.1,302.7 L565.9,305.9 L551.6,309.0Z M637.7,313.8 L649.6,304.8 L655.6,307.8 L655.6,319.8 L646.6,324.2 L637.7,318.3Z M688.6,357.5 L696.9,349.1 L704.1,340.8 L713.7,340.8 L725.6,350.3 L735.2,353.9 L737.6,361.1 L735.2,369.4 L723.2,374.2 L713.7,365.9 L701.7,362.3Z M670.6,422.0 L687.4,408.9 L713.7,407.7 L719.6,411.3 L701.7,417.2 L683.8,426.8Z M592.8,246.6 L600.3,240.7 L609.3,242.2 L615.2,252.6 L606.3,258.6 L597.3,255.6Z M541.5,483.0 L546.9,470.5 L561.2,458.8 L568.4,472.3 L564.8,479.4 L550.5,483.0Z M600.7,465.1 L611.4,452.5 L613.2,466.9Z M670.5,188.3 L675.0,182.5 L679.5,188.3 L675.0,194.0Z M515.8,221.5 L519.3,217.5 L522.8,221.5 L519.3,225.5Z" fill="none" fill-rule="nonzero" stroke="#6a46f0" stroke-width="1.3" stroke-linejoin="round"/>
</g>
<rect x="95.2" y="12.5" width="854.5" height="649.0" fill="none" stroke="#4a4a4a" stroke-width="1.6"/>
<line x1="95.2" y1="661.5" x2="95.2" y2="651.5" stroke="#4a4a4a" stroke-width="1.6"/>
<line x1="95.2" y1="12.5" x2="95.2" y2="22.5" stroke="#4a4a4a" stroke-width="1.6"/>
<text x="95.2" y="688.0" font-family="Liberation Sans" font-size="21.5" text-anchor="middle" fill="#1a1a1a" stroke="#1a1a1a" stroke-width="0.3">10</text>
<line x1="197.1" y1="661.5" x2="197.1" y2="651.5" stroke="#4a4a4a" stroke-width="1.6"/>
<line x1="197.1" y1="12.5" x2="197.1" y2="22.5" stroke="#4a4a4a" stroke-width="1.6"/>
<text x="197.1" y="688.0" font-family="Liberation Sans" font-size="21.5" text-anchor="middle" fill="#1a1a1a" stroke="#1a1a1a" stroke-width="0.3">20</text>
<line x1="299.0" y1="661.5" x2="299.0" y2="651.5" stroke="#4a4a4a" stroke-width="1.6"/>
<line x1="299.0" y1="12.5" x2="299.0" y2="22.5" stroke="#4a4a4a" stroke-width="1.6"/>
<text x="299.0" y="688.0" font-family="Liberation Sans" font-size="21.5" text-anchor="middle" fill="#1a1a1a" stroke="#1a1a1a" stroke-width="0.3">30</text>
<line x1="400.9" y1="661.5" x2="400.9" y2="651.5" stroke="#4a4a4a" stroke-width="1.6"/>
<line x1="400.9" y1="12.5" x2="400.9" y2="22.5" stroke="#4a4a4a" stroke-width="1.6"/>
<text x="400.9" y="688.0" font-family="Liberation Sans" font-size="21.5" text-anchor="middle" fill="#1a1a1a" stroke="#1a1a1a" stroke-width="0.3">40</text>
<line x1="502.8" y1="661.5" x2="502.8" y2="651.5" stroke="#4a4a4a" stroke-width="1.6"/>
<line x1="502.8" y1="12.5" x2="502.8" y2="22.5" stroke="#4a4a4a" stroke-width="1.6"/>
<text x="502.8" y="688.0" font-family="Liberation Sans" font-size="21.5" text-anchor="middle" fill="#1a1a1a" stroke="#1a1a1a" stroke-width="0.3">50</text>
<line x1="604.7" y1="661.5" x2="604.7" y2="651.5" stroke="#4a4a4a" stroke-width="1.6"/>
<line x1="604.7" y1="12.5" x2="604.7" y2="22.5" stroke="#4a4a4a" stroke-width="1.6"/>
<text x="604.7" y="688.0" font-family="Liberation Sans" font-size="21.5" text-anchor="middle" fill="#1a1a1a" stroke="#1a1a1a" stroke-width="0.3">60</text>
<line x1="706.6" y1="661.5" x2="706.6" y2="651.5" stroke="#4a4a4a" stroke-width="1.6"/>
<line x1="706.6" y1="12.5" x2="706.6" y2="22.5" stroke="#4a4a4a" stroke-width="1.6"/>
<text x="706.6" y="688.0" font-family="Liberation Sans" font-size="21.5" text-anchor="middle" fill="#1a1a1a" stroke="#1a1a1a" stroke-width="0.3">70</text>
<line x1="808.5" y1="661.5" x2="808.5" y2="651.5" stroke="#4a4a4a" stroke-width="1.6"/>
<line x1="808.5" y1="12.5" x2="808.5" y2="22.5" stroke="#4a4a4a" stroke-width="1.6"/>
<text x="808.5" y="688.0" font-family="Liberation Sans" font-size="21.5" text-anchor="middle" fill="#1a1a1a" stroke="#1a1a1a" stroke-width="0.3">80</text>
<line x1="910.4" y1="661.5" x2="910.4" y2="651.5" stroke="#4a4a4a" stroke-width="1.6"/>
<line x1="910.4" y1="12.5" x2="910.4" y2="22.5" stroke="#4a4a4a" stroke-width="1.6"/>
<text x="910.4" y="688.0" font-family="Liberation Sans" font-size="21.5" text-anchor="middle" fill="#1a1a1a" stroke="#1a1a1a" stroke-width="0.3">90</text>
<line x1="95.2" y1="572.5" x2="105.2" y2="572.5" stroke="#4a4a4a" stroke-width="1.6"/>
<line x1="949.7" y1="572.5" x2="939.7" y2="572.5" stroke="#4a4a4a" stroke-width="1.6"/>
<text x="86.5" y="580.1" font-family="Liberation Sans" font-size="21.5" text-anchor="end" fill="#1a1a1a" stroke="#1a1a1a" stroke-width="0.3">30</text>
<line x1="95.2" y1="466.8" x2="105.2" y2="466.8" stroke="#4a4a4a" stroke-width="1.6"/>
<line x1="949.7" y1="466.8" x2="939.7" y2="466.8" stroke="#4a4a4a" stroke-width="1.6"/>
<text x="86.5" y="474.4" font-family="Liberation Sans" font-size="21.5" text-anchor="end" fill="#1a1a1a" stroke="#1a1a1a" stroke-width="0.3">40</text>
<line x1="95.2" y1="361.2" x2="105.2" y2="361.2" stroke="#4a4a4a" stroke-width="1.6"/>
<line x1="949.7" y1="361.2" x2="939.7" y2="361.2" stroke="#4a4a4a" stroke-width="1.6"/>
<text x="86.5" y="368.8" font-family="Liberation Sans" font-size="21.5" text-anchor="end" fill="#1a1a1a" stroke="#1a1a1a" stroke-width="0.3">50</text>
<line x1="95.2" y1="255.5" x2="105.2" y2="255.5" stroke="#4a4a4a" stroke-width="1.6"/>
<line x1="949.7" y1="255.5" x2="939.7" y2="255.5" stroke="#4a4a4a" stroke-width="1.6"/>
<text x="86.5" y="263.1" font-family="Liberation Sans" font-size="21.5" text-anchor="end" fill="#1a1a1a" stroke="#1a1a1a" stroke-width="0.3">60</text>
<line x1="95.2" y1="149.9" x2="105.2" y2="149.9" stroke="#4a4a4a" stroke-width="1.6"/>
<line x1="949.7" y1="149.9" x2="939.7" y2="149.9" stroke="#4a4a4a" stroke-width="1.6"/>
<text x="86.5" y="157.5" font-family="Liberation Sans" font-size="21.5" text-anchor="end" fill="#1a1a1a" stroke="#1a1a1a" stroke-width="0.3">70</text>
<line x1="95.2" y1="44.2" x2="105.2" y2="44.2" stroke="#4a4a4a" stroke-width="1.6"/>
<line x1="949.7" y1="44.2" x2="939.7" y2="44.2" stroke="#4a4a4a" stroke-width="1.6"/>
<text x="86.5" y="51.8" font-family="Liberation Sans" font-size="21.5" text-anchor="end" fill="#1a1a1a" stroke="#1a1a1a" stroke-width="0.3">80</text>
<text x="507.7" y="730.5" font-family="Liberation Sans" font-size="23" text-anchor="middle" fill="#111" stroke="#111" stroke-width="0.3">Displacement x</text>
<text transform="translate(34.8,362.3) rotate(-90)" font-family="Liberation Sans" font-size="23" text-anchor="middle" fill="#111" stroke="#111" stroke-width="0.3">Displacement y</text>
<text transform="translate(10.5,35.3) scale(1.08,1)" font-family="Liberation Sans" font-size="34.5" font-weight="bold" fill="#000" stroke="#000" stroke-width="0.3">A</text>
<rect x="822.4" y="566.4" width="16.2" height="16" fill="#c24f72"/>
<rect x="822.4" y="608" width="16.2" height="15.8" fill="#5bb5e8"/>
<text x="848" y="584.7" font-family="Liberation Sans" font-size="29" fill="#111" stroke="#111" stroke-width="0.3">Right</text>
<text x="848" y="624.3" font-family="Liberation Sans" font-size="29" fill="#111" stroke="#111" stroke-width="0.3">Left</text>
<defs>
<clipPath id="c0"><rect x="102.0" y="781.9" width="648.4" height="340.6"/></clipPath>
<clipPath id="c1"><rect x="102.0" y="1152.3" width="648.4" height="293.29999999999995"/></clipPath>
<clipPath id="c2"><rect x="102.0" y="1475.8" width="648.4" height="274.60000000000014"/></clipPath>
</defs>
<path d="M100.0,931.4 C102.7,931.6 111.0,933.0 116.4,933.0 C121.9,933.0 127.4,930.3 132.9,931.4 C138.4,932.5 143.8,937.9 149.3,939.6 C154.8,941.2 160.8,942.0 165.7,941.2 C170.7,940.4 174.5,936.3 178.9,934.6 C183.3,933.0 186.0,931.9 192.0,931.4 C198.1,930.8 207.9,933.0 215.1,931.4 C222.2,929.7 228.2,922.3 234.8,921.5 C241.4,920.7 247.4,925.6 254.5,926.4 C261.6,927.2 269.3,927.2 277.5,926.4 C285.7,925.6 295.0,922.6 303.8,921.5 C312.6,920.4 322.4,918.8 330.1,919.8 C337.8,920.9 343.3,925.6 349.8,928.1 C356.4,930.5 363.0,933.3 369.6,934.6 C376.1,936.0 382.7,937.4 389.3,936.3 C395.9,935.2 400.6,930.8 409.0,928.1 C417.5,925.4 430.4,921.7 440.0,920.1 C449.6,918.5 458.9,919.0 466.7,918.5 C474.5,917.9 479.5,915.7 486.7,916.8 C494.0,917.9 502.9,924.6 510.1,925.1 C517.3,925.7 522.9,921.0 530.1,920.1 C537.3,919.3 546.2,919.6 553.5,920.1 C560.7,920.7 566.8,923.7 573.5,923.5 C580.2,923.2 586.8,920.7 593.5,918.5 C600.2,916.2 606.9,913.7 613.5,910.1 C620.2,906.5 626.9,900.1 633.5,896.8 C640.2,893.4 647.4,890.1 653.6,890.1 C659.7,890.1 664.7,892.3 670.3,896.8 C675.8,901.2 680.8,914.6 686.9,916.8 C693.1,919.0 700.3,909.0 707.0,910.1 C713.6,911.2 719.7,920.7 727.0,923.5 C734.2,926.2 746.4,926.2 750.3,926.8 L750.3,956.8 C748.1,957.1 742.0,960.2 737.0,958.5 C732.0,956.8 726.4,949.3 720.3,946.8 C714.2,944.3 707.0,941.8 700.3,943.5 C693.6,945.2 685.8,956.3 680.3,956.8 C674.7,957.4 672.5,949.6 666.9,946.8 C661.4,944.0 653.6,939.6 646.9,940.2 C640.2,940.7 633.5,947.4 626.9,950.2 C620.2,952.9 613.5,954.6 606.9,956.8 C600.2,959.1 593.5,963.8 586.8,963.5 C580.2,963.2 574.6,957.4 566.8,955.2 C559.0,952.9 549.0,950.2 540.1,950.2 C531.2,950.2 522.3,956.3 513.4,955.2 C504.5,954.1 495.6,944.6 486.7,943.5 C477.8,942.4 467.8,946.8 460.0,948.5 C452.3,950.2 449.6,952.5 440.0,953.5 C430.4,954.5 412.0,953.1 402.4,954.4 C392.9,955.6 389.3,959.8 382.7,960.9 C376.1,962.0 369.6,962.6 363.0,960.9 C356.4,959.3 349.8,953.8 343.3,951.1 C336.7,948.3 331.2,945.1 323.5,944.5 C315.9,944.0 306.0,946.4 297.2,947.8 C288.5,949.2 279.7,952.2 270.9,952.7 C262.2,953.3 252.3,949.7 244.6,951.1 C237.0,952.4 231.5,957.9 224.9,960.9 C218.3,964.0 211.8,968.1 205.2,969.2 C198.6,970.3 192.0,967.8 185.5,967.5 C178.9,967.2 171.8,968.3 165.7,967.5 C159.7,966.7 154.2,964.5 149.3,962.6 C144.4,960.7 141.1,956.6 136.2,956.0 C131.2,955.5 125.8,958.5 119.7,959.3 C113.7,960.1 103.3,960.7 100.0,960.9 Z" fill="#8cf07a" fill-opacity="0.4" clip-path="url(#c0)"/>
<path d="M100.0,934.6 C102.2,935.5 108.2,939.6 113.1,939.6 C118.1,939.6 124.7,933.8 129.6,934.6 C134.5,935.5 137.8,940.1 142.7,944.5 C147.7,948.9 153.7,957.1 159.2,960.9 C164.7,964.8 170.7,972.4 175.6,967.5 C180.5,962.6 183.8,945.1 188.8,931.4 C193.7,917.7 199.2,900.1 205.2,885.3 C211.2,870.5 218.3,853.6 224.9,842.6 C231.5,831.6 239.2,825.3 244.6,819.6 C250.1,813.8 252.3,808.6 257.8,808.1 C263.3,807.5 270.9,810.0 277.5,816.3 C284.1,822.6 291.8,839.3 297.2,845.9 C302.7,852.5 304.9,851.4 310.4,855.7 C315.9,860.1 323.5,870.5 330.1,872.2 C336.7,873.8 343.8,869.2 349.8,865.6 C355.9,862.0 361.9,854.7 366.3,850.8 C370.7,847.0 372.3,842.6 376.1,842.6 C380.0,842.6 385.4,847.0 389.3,850.8 C393.1,854.7 394.8,861.5 399.1,865.6 C403.5,869.7 409.3,871.9 415.6,875.5 C421.8,879.0 431.5,884.6 436.7,886.8 C441.9,888.9 442.8,889.3 446.7,888.4 C450.6,887.6 454.5,882.0 460.0,881.8 C465.6,881.5 473.4,887.3 480.1,886.8 C486.7,886.2 494.5,877.9 500.1,878.4 C505.6,879.0 508.4,883.1 513.4,890.1 C518.4,897.1 524.5,911.2 530.1,920.1 C535.7,929.0 540.7,939.0 546.8,943.5 C552.9,947.9 561.3,945.7 566.8,946.8 C572.4,947.9 574.6,950.4 580.2,950.2 C585.7,949.9 595.2,945.7 600.2,945.2 C605.2,944.6 605.7,944.3 610.2,946.8 C614.6,949.3 620.8,957.9 626.9,960.2 C633.0,962.4 641.3,960.7 646.9,960.2 C652.5,959.6 655.8,956.8 660.2,956.8 C664.7,956.8 669.1,959.6 673.6,960.2 C678.0,960.7 681.9,961.3 686.9,960.2 C691.9,959.1 698.1,955.4 703.6,953.5 C709.2,951.6 714.2,951.3 720.3,948.5 C726.4,945.7 735.3,937.1 740.3,936.8 C745.3,936.5 748.7,945.2 750.3,946.8 L750.3,976.9 C748.7,975.7 744.2,969.1 740.3,970.2 C736.4,971.3 733.1,979.6 727.0,983.5 C720.9,987.4 710.3,990.2 703.6,993.5 C696.9,996.9 690.8,1002.7 686.9,1003.5 C683.0,1004.4 684.2,1000.8 680.3,998.5 C676.4,996.3 669.1,990.8 663.6,990.2 C658.0,989.6 653.0,994.6 646.9,995.2 C640.8,995.8 633.5,994.9 626.9,993.5 C620.2,992.1 612.4,987.4 606.9,986.9 C601.3,986.3 598.0,988.3 593.5,990.2 C589.1,992.1 584.6,999.7 580.2,998.5 C575.7,997.4 571.3,988.0 566.8,983.5 C562.4,979.1 559.0,975.2 553.5,971.8 C547.9,968.5 540.1,967.7 533.4,963.5 C526.8,959.3 521.2,950.2 513.4,946.8 C505.6,943.5 495.6,942.9 486.7,943.5 C477.8,944.0 467.3,947.1 460.0,950.2 C452.8,953.2 447.2,960.7 443.4,961.8 C439.5,963.0 441.3,958.6 436.7,956.8 C432.1,955.0 421.3,954.2 415.6,951.1 C409.9,947.9 406.8,943.4 402.4,937.9 C398.0,932.5 393.7,922.6 389.3,918.2 C384.9,913.8 381.6,910.0 376.1,911.6 C370.7,913.3 361.9,926.7 356.4,928.1 C350.9,929.4 347.6,922.0 343.3,919.8 C338.9,917.7 335.0,913.8 330.1,914.9 C325.2,916.0 319.2,924.2 313.7,926.4 C308.2,928.6 301.6,931.1 297.2,928.1 C292.9,925.1 291.8,915.2 287.4,908.3 C283.0,901.5 275.9,891.1 270.9,887.0 C266.0,882.9 263.3,882.3 257.8,883.7 C252.3,885.1 243.5,892.2 238.1,895.2 C232.6,898.2 230.4,897.9 224.9,901.8 C219.4,905.6 210.7,910.0 205.2,918.2 C199.7,926.4 195.9,940.7 192.0,951.1 C188.2,961.5 185.5,974.6 182.2,980.7 C178.9,986.7 175.9,984.5 172.3,987.2 C168.8,990.0 164.7,996.6 160.8,997.1 C157.0,997.6 154.0,993.3 149.3,990.5 C144.7,987.8 137.8,981.2 132.9,980.7 C127.9,980.1 124.1,985.0 119.7,987.2 C115.3,989.4 109.9,991.1 106.6,993.8 C103.3,996.6 101.1,1002.0 100.0,1003.7 Z" fill="#f56a6a" fill-opacity="0.45" clip-path="url(#c0)"/>
<path d="M100.0,939.6 C103.3,940.9 109.9,945.3 119.7,947.8 C129.6,950.3 150.4,951.1 159.2,954.4 C167.9,957.7 167.9,963.1 172.3,967.5 C176.7,971.9 180.0,975.7 185.5,980.7 C190.9,985.6 197.5,993.0 205.2,997.1 C212.9,1001.2 223.3,1004.2 231.5,1005.3 C239.7,1006.4 247.9,1003.7 254.5,1003.7 C261.1,1003.7 263.8,1006.4 270.9,1005.3 C278.1,1004.2 288.5,999.0 297.2,997.1 C306.0,995.2 315.9,995.5 323.5,993.8 C331.2,992.2 335.6,989.4 343.3,987.2 C350.9,985.0 361.9,981.2 369.6,980.7 C377.2,980.1 383.8,982.9 389.3,984.0 C394.8,985.0 394.0,986.5 402.4,987.2 C410.9,988.0 431.5,989.2 440.0,988.5 C448.5,987.9 448.4,985.2 453.4,983.5 C458.4,981.9 464.5,982.4 470.1,978.5 C475.6,974.6 481.2,966.0 486.7,960.2 C492.3,954.3 497.9,948.5 503.4,943.5 C509.0,938.5 515.1,935.7 520.1,930.1 C525.1,924.6 527.9,914.0 533.4,910.1 C539.0,906.2 546.8,908.7 553.5,906.8 C560.1,904.8 566.8,902.3 573.5,898.4 C580.2,894.5 587.4,887.9 593.5,883.4 C599.6,879.0 605.2,874.0 610.2,871.7 C615.2,869.5 618.5,869.2 623.5,870.1 C628.5,870.9 634.1,874.0 640.2,876.8 C646.3,879.5 653.6,881.5 660.2,886.8 C666.9,892.0 674.1,906.8 680.3,908.5 C686.4,910.1 691.4,899.3 696.9,896.8 C702.5,894.3 707.5,894.5 713.6,893.4 C719.7,892.3 727.5,891.8 733.6,890.1 C739.8,888.4 747.5,884.5 750.3,883.4 L750.3,940.2 C748.1,941.3 742.0,945.7 737.0,946.8 C732.0,947.9 726.4,946.3 720.3,946.8 C714.2,947.4 707.0,948.5 700.3,950.2 C693.6,951.8 685.3,955.2 680.3,956.8 C675.3,958.5 674.7,961.8 670.3,960.2 C665.8,958.5 659.7,949.0 653.6,946.8 C647.4,944.6 640.2,947.1 633.5,946.8 C626.9,946.5 619.6,944.9 613.5,945.2 C607.4,945.4 602.4,946.0 596.8,948.5 C591.3,951.0 585.2,956.6 580.2,960.2 C575.2,963.8 571.3,967.7 566.8,970.2 C562.4,972.7 558.5,978.0 553.5,975.2 C548.5,972.4 541.2,953.2 536.8,953.5 C532.3,953.8 530.7,966.8 526.8,976.9 C522.9,986.9 517.9,1002.7 513.4,1013.6 C509.0,1024.4 505.6,1035.8 500.1,1041.9 C494.5,1048.0 486.7,1046.1 480.1,1050.3 C473.4,1054.4 466.7,1062.5 460.0,1066.9 C453.4,1071.4 448.5,1073.8 440.0,1077.0 C431.5,1080.1 417.5,1086.6 409.0,1085.9 C400.6,1085.2 394.8,1074.4 389.3,1072.7 C383.8,1071.1 381.6,1072.7 376.1,1076.0 C370.7,1079.3 364.1,1088.0 356.4,1092.4 C348.7,1096.8 340.0,1100.9 330.1,1102.3 C320.2,1103.7 307.6,1100.1 297.2,1100.7 C286.8,1101.2 277.5,1104.5 267.7,1105.6 C257.8,1106.7 246.3,1108.3 238.1,1107.2 C229.8,1106.1 224.9,1103.7 218.3,1099.0 C211.8,1094.4 204.1,1087.0 198.6,1079.3 C193.1,1071.6 188.8,1062.8 185.5,1053.0 C182.2,1043.1 182.2,1030.0 178.9,1020.1 C175.6,1010.2 173.4,999.0 165.7,993.8 C158.1,988.6 141.1,989.4 132.9,988.9 C124.7,988.3 121.9,990.8 116.4,990.5 C111.0,990.3 102.7,987.8 100.0,987.2 Z" fill="#9ee0f8" fill-opacity="0.5" clip-path="url(#c0)"/>
<path d="M100.0,1265.1 C102.7,1266.2 110.4,1272.2 116.4,1271.6 C122.5,1271.1 130.1,1267.0 136.2,1261.8 C142.2,1256.6 147.7,1244.2 152.6,1240.4 C157.5,1236.6 160.8,1237.7 165.7,1238.8 C170.7,1239.9 176.7,1245.9 182.2,1247.0 C187.7,1248.1 192.6,1246.7 198.6,1245.3 C204.6,1244.0 211.8,1240.7 218.3,1238.8 C224.9,1236.8 231.5,1233.6 238.1,1233.8 C244.6,1234.1 251.2,1238.8 257.8,1240.4 C264.4,1242.0 270.9,1244.0 277.5,1243.7 C284.1,1243.4 291.2,1240.1 297.2,1238.8 C303.3,1237.4 308.7,1232.2 313.7,1235.5 C318.6,1238.8 322.4,1252.5 326.8,1258.5 C331.2,1264.5 335.0,1268.9 340.0,1271.6 C344.9,1274.4 351.5,1276.8 356.4,1274.9 C361.3,1273.0 364.1,1262.6 369.6,1260.1 C375.0,1257.7 382.2,1260.9 389.3,1260.1 C396.4,1259.3 405.0,1251.3 412.3,1255.2 C419.6,1259.1 426.5,1278.5 433.3,1283.5 C440.2,1288.5 446.7,1285.1 453.4,1285.1 C460.0,1285.1 465.6,1282.6 473.4,1283.5 C481.2,1284.3 492.3,1291.0 500.1,1290.1 C507.9,1289.3 514.5,1280.7 520.1,1278.5 C525.7,1276.2 527.9,1275.4 533.4,1276.8 C539.0,1278.2 546.8,1285.4 553.5,1286.8 C560.1,1288.2 565.7,1287.4 573.5,1285.1 C581.3,1282.9 593.0,1274.6 600.2,1273.5 C607.4,1272.3 611.3,1276.8 616.9,1278.5 C622.4,1280.1 627.4,1283.2 633.5,1283.5 C639.7,1283.7 646.9,1282.6 653.6,1280.1 C660.2,1277.6 668.0,1271.0 673.6,1268.5 C679.1,1265.9 682.5,1265.1 686.9,1265.1 C691.4,1265.1 694.7,1265.9 700.3,1268.5 C705.8,1271.0 713.6,1276.5 720.3,1280.1 C727.0,1283.7 735.3,1286.2 740.3,1290.1 C745.3,1294.0 748.7,1301.3 750.3,1303.5 L750.3,1348.5 C748.7,1345.5 744.2,1336.0 740.3,1330.2 C736.4,1324.3 732.5,1319.1 727.0,1313.5 C721.4,1307.9 713.6,1299.6 707.0,1296.8 C700.3,1294.0 692.5,1296.3 686.9,1296.8 C681.4,1297.4 678.6,1297.9 673.6,1300.2 C668.6,1302.4 662.5,1307.7 656.9,1310.2 C651.3,1312.7 646.3,1314.1 640.2,1315.2 C634.1,1316.3 625.8,1317.7 620.2,1316.8 C614.6,1316.0 611.3,1310.4 606.9,1310.2 C602.4,1309.9 599.1,1311.6 593.5,1315.2 C587.9,1318.8 579.0,1328.8 573.5,1331.8 C567.9,1334.9 565.7,1335.2 560.1,1333.5 C554.6,1331.8 546.2,1322.1 540.1,1321.8 C534.0,1321.6 528.4,1328.0 523.4,1331.8 C518.4,1335.7 515.1,1344.6 510.1,1345.2 C505.1,1345.8 499.5,1338.0 493.4,1335.2 C487.3,1332.4 479.5,1329.3 473.4,1328.5 C467.3,1327.7 462.3,1331.0 456.7,1330.2 C451.1,1329.3 448.0,1328.3 440.0,1323.5 C432.1,1318.7 418.6,1304.9 409.0,1301.2 C399.5,1297.5 389.3,1299.6 382.7,1301.2 C376.1,1302.9 373.9,1308.6 369.6,1311.1 C365.2,1313.5 360.8,1315.5 356.4,1316.0 C352.0,1316.6 347.6,1315.2 343.3,1314.4 C338.9,1313.5 334.5,1316.6 330.1,1311.1 C325.7,1305.6 320.8,1285.6 317.0,1281.5 C313.1,1277.4 311.5,1284.8 307.1,1286.4 C302.7,1288.1 296.7,1291.1 290.7,1291.4 C284.6,1291.6 275.3,1290.0 270.9,1288.1 C266.6,1286.1 269.8,1282.0 264.4,1279.8 C258.9,1277.7 246.8,1274.6 238.1,1274.9 C229.3,1275.2 219.4,1278.8 211.8,1281.5 C204.1,1284.2 197.5,1291.4 192.0,1291.4 C186.6,1291.4 183.3,1284.5 178.9,1281.5 C174.5,1278.5 171.2,1273.8 165.7,1273.3 C160.3,1272.7 151.5,1275.2 146.0,1278.2 C140.5,1281.2 136.7,1288.1 132.9,1291.4 C129.0,1294.6 126.3,1296.3 123.0,1297.9 C119.7,1299.6 117.0,1300.7 113.1,1301.2 C109.3,1301.8 102.2,1301.2 100.0,1301.2 Z" fill="#f56a6a" fill-opacity="0.45" clip-path="url(#c1)"/>
<path d="M100.0,1176.3 C101.1,1176.8 103.3,1177.4 106.6,1179.6 C109.9,1181.8 114.2,1184.2 119.7,1189.4 C125.2,1194.7 132.9,1208.1 139.4,1210.8 C146.0,1213.6 151.5,1207.0 159.2,1205.9 C166.8,1204.8 178.3,1203.7 185.5,1204.2 C192.6,1204.8 197.0,1206.2 201.9,1209.2 C206.8,1212.2 210.1,1220.7 215.1,1222.3 C220.0,1224.0 225.5,1221.2 231.5,1219.0 C237.5,1216.8 244.1,1212.7 251.2,1209.2 C258.3,1205.6 267.7,1199.0 274.2,1197.7 C280.8,1196.3 285.2,1200.1 290.7,1201.0 C296.1,1201.8 301.6,1199.9 307.1,1202.6 C312.6,1205.3 318.6,1215.7 323.5,1217.4 C328.5,1219.0 331.8,1215.2 336.7,1212.5 C341.6,1209.7 347.6,1202.0 353.1,1201.0 C358.6,1199.9 363.5,1203.4 369.6,1205.9 C375.6,1208.3 383.8,1214.4 389.3,1215.7 C394.8,1217.1 398.0,1214.9 402.4,1214.1 C406.8,1213.3 409.3,1209.8 415.6,1210.8 C421.8,1211.8 432.6,1218.8 440.0,1220.1 C447.4,1221.3 453.9,1220.1 460.0,1218.4 C466.2,1216.7 470.6,1210.3 476.7,1210.1 C482.8,1209.8 490.1,1217.0 496.7,1216.7 C503.4,1216.5 510.6,1211.5 516.8,1208.4 C522.9,1205.3 527.3,1198.7 533.4,1198.4 C539.6,1198.1 547.9,1207.0 553.5,1206.7 C559.0,1206.4 561.3,1200.9 566.8,1196.7 C572.4,1192.5 580.7,1184.5 586.8,1181.7 C593.0,1178.9 598.0,1176.7 603.5,1180.0 C609.1,1183.4 614.1,1197.0 620.2,1201.7 C626.3,1206.4 633.5,1206.7 640.2,1208.4 C646.9,1210.1 653.6,1211.5 660.2,1211.7 C666.9,1212.0 674.1,1209.8 680.3,1210.1 C686.4,1210.3 691.4,1212.6 696.9,1213.4 C702.5,1214.2 708.1,1216.7 713.6,1215.1 C719.2,1213.4 725.3,1207.0 730.3,1203.4 C735.3,1199.8 740.3,1193.9 743.7,1193.4 C747.0,1192.8 749.2,1198.9 750.3,1200.1 L750.3,1273.5 C747.5,1274.0 739.8,1274.6 733.6,1276.8 C727.5,1279.0 719.7,1282.6 713.6,1286.8 C707.5,1291.0 702.5,1301.3 696.9,1301.8 C691.4,1302.4 687.5,1293.2 680.3,1290.1 C673.0,1287.1 662.5,1284.6 653.6,1283.5 C644.7,1282.4 633.5,1286.2 626.9,1283.5 C620.2,1280.7 618.0,1272.3 613.5,1266.8 C609.1,1261.2 605.2,1250.7 600.2,1250.1 C595.2,1249.5 589.6,1258.4 583.5,1263.4 C577.4,1268.5 568.5,1276.8 563.5,1280.1 C558.5,1283.5 559.0,1286.0 553.5,1283.5 C547.9,1281.0 535.7,1266.8 530.1,1265.1 C524.5,1263.4 525.1,1269.3 520.1,1273.5 C515.1,1277.6 506.8,1288.2 500.1,1290.1 C493.4,1292.1 486.7,1286.2 480.1,1285.1 C473.4,1284.0 466.7,1283.7 460.0,1283.5 C453.4,1283.2 447.4,1287.6 440.0,1283.5 C432.6,1279.3 422.9,1262.6 415.6,1258.5 C408.2,1254.3 402.4,1259.0 395.9,1258.5 C389.3,1257.9 382.7,1255.2 376.1,1255.2 C369.6,1255.2 363.0,1257.9 356.4,1258.5 C349.8,1259.0 342.2,1256.8 336.7,1258.5 C331.2,1260.1 329.0,1265.1 323.5,1268.3 C318.1,1271.6 310.4,1276.0 303.8,1278.2 C297.2,1280.4 290.1,1280.4 284.1,1281.5 C278.1,1282.6 272.0,1282.6 267.7,1284.8 C263.3,1287.0 261.6,1291.4 257.8,1294.6 C254.0,1297.9 249.0,1301.5 244.6,1304.5 C240.3,1307.5 236.4,1310.0 231.5,1312.7 C226.6,1315.5 220.5,1320.9 215.1,1320.9 C209.6,1320.9 204.6,1314.6 198.6,1312.7 C192.6,1310.8 185.5,1310.8 178.9,1309.4 C172.3,1308.1 165.7,1305.3 159.2,1304.5 C152.6,1303.7 144.9,1305.6 139.4,1304.5 C134.0,1303.4 132.9,1300.1 126.3,1297.9 C119.7,1295.7 104.4,1292.5 100.0,1291.4 Z" fill="#9ee0f8" fill-opacity="0.5" clip-path="url(#c1)"/>
<path d="M100.0,1591.8 C103.3,1590.7 114.2,1587.4 119.7,1585.2 C125.2,1583.0 127.9,1578.1 132.9,1578.6 C137.8,1579.2 143.8,1584.1 149.3,1588.5 C154.8,1592.9 159.7,1602.5 165.7,1604.9 C171.8,1607.4 178.9,1604.4 185.5,1603.3 C192.0,1602.2 198.6,1600.3 205.2,1598.3 C211.8,1596.4 218.3,1593.7 224.9,1591.8 C231.5,1589.9 238.1,1588.8 244.6,1586.8 C251.2,1584.9 258.9,1581.6 264.4,1580.3 C269.8,1578.9 272.0,1580.0 277.5,1578.6 C283.0,1577.2 291.8,1572.0 297.2,1572.0 C302.7,1572.0 306.0,1577.5 310.4,1578.6 C314.8,1579.7 319.2,1580.3 323.5,1578.6 C327.9,1577.0 332.3,1569.3 336.7,1568.8 C341.1,1568.2 345.5,1573.1 349.8,1575.3 C354.2,1577.5 358.6,1580.3 363.0,1581.9 C367.4,1583.6 370.7,1584.6 376.1,1585.2 C381.6,1585.7 389.3,1586.0 395.9,1585.2 C402.4,1584.4 407.1,1581.7 415.6,1580.3 C424.1,1578.9 434.8,1578.5 446.7,1576.8 C458.6,1575.1 474.5,1572.9 486.7,1570.1 C499.0,1567.3 512.3,1562.3 520.1,1560.1 C527.9,1557.9 529.0,1557.9 533.4,1556.7 C537.9,1555.6 542.3,1552.9 546.8,1553.4 C551.2,1554.0 556.2,1558.1 560.1,1560.1 C564.0,1562.0 565.7,1564.5 570.2,1565.1 C574.6,1565.6 581.9,1564.5 586.8,1563.4 C591.8,1562.3 594.7,1560.9 600.0,1558.6 C605.3,1556.3 612.6,1552.7 618.5,1549.3 C624.4,1546.0 631.4,1541.0 635.5,1538.5 C639.6,1536.1 640.4,1534.9 643.2,1534.7 C646.1,1534.4 648.9,1535.6 652.5,1537.0 C656.1,1538.4 661.8,1541.5 664.8,1543.2 C667.9,1544.8 667.4,1545.0 671.0,1547.0 C674.6,1549.1 681.6,1555.3 686.5,1555.5 C691.3,1555.8 696.8,1548.6 700.4,1548.6 C704.0,1548.6 705.2,1553.3 708.1,1555.5 C710.9,1557.7 713.5,1560.4 717.3,1561.7 C721.2,1563.0 727.1,1563.7 731.2,1563.2 C735.4,1562.7 739.0,1559.4 742.0,1558.6 C745.1,1557.8 747.6,1558.6 749.8,1558.6 C751.9,1558.6 754.1,1558.6 755.0,1558.6 L755.0,1612.6 C754.1,1612.6 753.2,1612.4 749.8,1612.6 C746.3,1612.9 738.2,1613.4 734.3,1614.2 C730.5,1615.0 729.7,1618.0 726.6,1617.3 C723.5,1616.5 720.2,1611.3 715.8,1609.5 C711.4,1607.7 705.2,1607.2 700.4,1606.5 C695.5,1605.7 690.8,1606.5 686.5,1604.9 C682.1,1603.4 678.2,1599.3 674.1,1597.2 C670.0,1595.1 667.7,1592.8 661.8,1592.6 C655.8,1592.3 645.8,1594.4 638.6,1595.7 C631.4,1596.9 625.0,1599.0 618.5,1600.3 C612.1,1601.6 605.3,1600.1 600.0,1603.4 C594.7,1606.7 590.1,1618.2 586.8,1620.1 C583.5,1622.1 584.6,1616.8 580.2,1615.1 C575.7,1613.5 567.9,1612.1 560.1,1610.1 C552.4,1608.2 541.2,1603.5 533.4,1603.5 C525.7,1603.5 521.2,1608.7 513.4,1610.1 C505.6,1611.5 494.5,1610.7 486.7,1611.8 C478.9,1612.9 473.4,1614.9 466.7,1616.8 C460.0,1618.7 455.2,1622.2 446.7,1623.5 C438.2,1624.8 423.0,1623.1 415.6,1624.6 C408.2,1626.2 406.8,1630.7 402.4,1632.9 C398.0,1635.1 393.7,1638.1 389.3,1637.8 C384.9,1637.5 381.6,1634.5 376.1,1631.2 C370.7,1627.9 361.9,1621.4 356.4,1618.1 C350.9,1614.8 347.6,1612.0 343.3,1611.5 C338.9,1610.9 335.6,1612.6 330.1,1614.8 C324.6,1617.0 315.9,1623.0 310.4,1624.6 C304.9,1626.3 302.7,1626.8 297.2,1624.6 C291.8,1622.5 285.2,1611.5 277.5,1611.5 C269.8,1611.5 258.9,1620.8 251.2,1624.6 C243.5,1628.5 237.0,1631.8 231.5,1634.5 C226.0,1637.2 223.8,1640.0 218.3,1641.1 C212.9,1642.2 205.7,1640.0 198.6,1641.1 C191.5,1642.2 182.2,1647.4 175.6,1647.7 C169.0,1647.9 164.1,1645.5 159.2,1642.7 C154.2,1640.0 150.4,1635.3 146.0,1631.2 C141.6,1627.1 137.3,1620.3 132.9,1618.1 C128.5,1615.9 125.2,1618.6 119.7,1618.1 C114.2,1617.5 103.3,1615.3 100.0,1614.8 Z" fill="#a07050" fill-opacity="0.6" clip-path="url(#c2)"/>
<path d="M100.0,1573.7 C101.1,1575.1 103.3,1580.0 106.6,1581.9 C109.9,1583.8 115.3,1586.3 119.7,1585.2 C124.1,1584.1 128.5,1577.0 132.9,1575.3 C137.3,1573.7 141.6,1576.4 146.0,1575.3 C150.4,1574.2 154.2,1572.9 159.2,1568.8 C164.1,1564.6 170.1,1555.1 175.6,1550.7 C181.1,1546.3 187.7,1543.8 192.0,1542.5 C196.4,1541.1 197.5,1540.3 201.9,1542.5 C206.3,1544.7 212.3,1552.3 218.3,1555.6 C224.4,1558.9 232.6,1560.0 238.1,1562.2 C243.5,1564.4 245.7,1570.7 251.2,1568.8 C256.7,1566.8 265.5,1554.5 270.9,1550.7 C276.4,1546.8 279.7,1549.3 284.1,1545.7 C288.5,1542.2 292.9,1532.3 297.2,1529.3 C301.6,1526.3 304.9,1527.4 310.4,1527.7 C315.9,1527.9 324.6,1528.2 330.1,1531.0 C335.6,1533.7 338.3,1539.7 343.3,1544.1 C348.2,1548.5 353.7,1556.4 359.7,1557.3 C365.7,1558.1 373.4,1551.5 379.4,1549.0 C385.4,1546.6 390.9,1544.4 395.9,1542.5 C400.8,1540.5 401.6,1537.9 409.0,1537.5 C416.4,1537.1 431.5,1539.1 440.0,1540.1 C448.5,1541.0 454.5,1543.4 460.0,1543.4 C465.6,1543.4 467.8,1539.8 473.4,1540.1 C478.9,1540.3 486.7,1542.3 493.4,1545.1 C500.1,1547.8 506.8,1555.4 513.4,1556.7 C520.1,1558.1 526.8,1552.9 533.4,1553.4 C540.1,1554.0 547.3,1558.1 553.5,1560.1 C559.6,1562.0 564.6,1565.1 570.2,1565.1 C575.7,1565.1 581.9,1562.2 586.8,1560.1 C591.8,1558.0 594.7,1556.3 600.0,1552.4 C605.3,1548.6 613.4,1539.2 618.5,1537.0 C623.7,1534.8 625.2,1539.8 630.9,1539.3 C636.5,1538.8 647.1,1533.8 652.5,1533.9 C657.9,1534.0 660.0,1536.7 663.3,1540.1 C666.6,1543.4 668.7,1548.8 672.6,1554.0 C676.4,1559.1 682.1,1570.9 686.5,1570.9 C690.8,1570.9 694.7,1558.5 698.8,1554.0 C702.9,1549.5 707.0,1544.4 711.2,1543.9 C715.3,1543.4 719.4,1547.9 723.5,1550.9 C727.6,1553.8 731.5,1558.1 735.9,1561.7 C740.2,1565.3 746.6,1570.2 749.8,1572.5 C753.0,1574.8 754.1,1575.1 755.0,1575.6 L755.0,1634.3 C754.1,1633.7 753.0,1633.7 749.8,1631.2 C746.6,1628.6 740.5,1622.7 735.9,1618.8 C731.2,1615.0 726.1,1610.1 722.0,1608.0 C717.9,1605.9 715.0,1604.7 711.2,1606.5 C707.3,1608.3 702.9,1615.0 698.8,1618.8 C694.7,1622.7 690.8,1629.6 686.5,1629.6 C682.1,1629.6 676.7,1622.7 672.6,1618.8 C668.4,1615.0 667.4,1608.8 661.8,1606.5 C656.1,1604.1 646.3,1605.4 638.6,1604.9 C630.9,1604.4 621.9,1602.1 615.4,1603.4 C609.0,1604.7 603.7,1611.2 600.0,1612.6 C596.3,1614.0 597.4,1611.1 593.5,1611.8 C589.6,1612.5 582.4,1616.8 576.8,1616.8 C571.3,1616.8 565.7,1613.7 560.1,1611.8 C554.6,1609.9 549.0,1605.1 543.5,1605.1 C537.9,1605.1 532.3,1610.4 526.8,1611.8 C521.2,1613.2 514.5,1616.5 510.1,1613.5 C505.6,1610.4 504.0,1597.9 500.1,1593.4 C496.2,1589.0 492.3,1589.6 486.7,1586.8 C481.2,1584.0 473.4,1577.9 466.7,1576.8 C460.0,1575.7 457.4,1578.7 446.7,1580.1 C436.0,1581.5 413.1,1583.8 402.4,1585.2 C391.8,1586.6 388.7,1586.8 382.7,1588.5 C376.7,1590.1 371.8,1594.5 366.3,1595.1 C360.8,1595.6 354.8,1594.0 349.8,1591.8 C344.9,1589.6 341.1,1583.0 336.7,1581.9 C332.3,1580.8 327.9,1585.7 323.5,1585.2 C319.2,1584.6 314.8,1580.8 310.4,1578.6 C306.0,1576.4 301.6,1572.0 297.2,1572.0 C292.9,1572.0 288.5,1575.9 284.1,1578.6 C279.7,1581.4 275.9,1584.1 270.9,1588.5 C266.0,1592.9 258.9,1601.1 254.5,1604.9 C250.1,1608.8 248.5,1610.9 244.6,1611.5 C240.8,1612.0 236.4,1609.3 231.5,1608.2 C226.6,1607.1 220.0,1606.6 215.1,1604.9 C210.1,1603.3 206.3,1601.1 201.9,1598.3 C197.5,1595.6 192.6,1589.0 188.8,1588.5 C184.9,1587.9 182.7,1592.3 178.9,1595.1 C175.1,1597.8 170.1,1601.1 165.7,1604.9 C161.4,1608.8 157.0,1615.3 152.6,1618.1 C148.2,1620.8 143.8,1620.5 139.4,1621.4 C135.1,1622.2 130.7,1623.0 126.3,1623.0 C121.9,1623.0 117.5,1622.2 113.1,1621.4 C108.8,1620.5 102.2,1618.6 100.0,1618.1 Z" fill="#6a30f0" fill-opacity="0.6" clip-path="url(#c2)"/>
<line x1="188.4" y1="783" x2="188.4" y2="1750" stroke="#a8a8a8" stroke-width="2" stroke-dasharray="4.2,4.2"/>
<line x1="534.0" y1="783" x2="534.0" y2="1750" stroke="#a8a8a8" stroke-width="2" stroke-dasharray="4.2,4.2"/>
<line x1="663.6" y1="783" x2="663.6" y2="1750" stroke="#a8a8a8" stroke-width="2" stroke-dasharray="4.2,4.2"/>
<path d="M100.0,942.9 C101.6,943.7 104.4,947.5 109.9,947.8 C115.3,948.1 126.3,943.4 132.9,944.5 C139.4,945.6 143.8,951.9 149.3,954.4 C154.8,956.8 159.7,959.8 165.7,959.3 C171.8,958.7 180.0,952.7 185.5,951.1 C190.9,949.4 194.2,950.0 198.6,949.4 C203.0,948.9 206.3,949.7 211.8,947.8 C217.2,945.9 225.5,939.0 231.5,937.9 C237.5,936.8 241.4,940.9 247.9,941.2 C254.5,941.5 264.9,940.1 270.9,939.6 C277.0,939.0 278.6,938.8 284.1,937.9 C289.6,937.1 298.3,935.5 303.8,934.6 C309.3,933.8 312.0,934.4 317.0,933.0 C321.9,931.6 328.5,926.1 333.4,926.4 C338.3,926.7 341.6,931.4 346.5,934.6 C351.5,937.9 358.1,944.0 363.0,946.1 C367.9,948.3 371.8,947.2 376.1,947.8 C380.5,948.3 384.9,950.3 389.3,949.4 C393.7,948.6 397.5,944.5 402.4,942.9 C407.4,941.2 412.6,940.3 418.9,939.6 C425.1,938.8 433.2,939.2 440.0,938.5 C446.9,937.7 452.3,936.3 460.0,935.1 C467.8,934.0 479.5,931.3 486.7,931.8 C494.0,932.4 497.9,937.6 503.4,938.5 C509.0,939.3 514.0,937.4 520.1,936.8 C526.2,936.3 533.4,935.7 540.1,935.1 C546.8,934.6 554.6,932.9 560.1,933.5 C565.7,934.0 569.0,936.8 573.5,938.5 C577.9,940.2 581.3,943.8 586.8,943.5 C592.4,943.2 600.2,939.6 606.9,936.8 C613.5,934.0 620.2,930.4 626.9,926.8 C633.5,923.2 641.3,916.8 646.9,915.1 C652.5,913.5 655.8,914.3 660.2,916.8 C664.7,919.3 669.1,926.2 673.6,930.1 C678.0,934.0 682.5,940.7 686.9,940.2 C691.4,939.6 696.4,929.3 700.3,926.8 C704.2,924.3 707.0,924.0 710.3,925.1 C713.6,926.2 716.4,930.4 720.3,933.5 C724.2,936.5 728.6,941.5 733.6,943.5 C738.7,945.4 747.5,944.9 750.3,945.2" fill="none" stroke="#7ef000" stroke-width="3.2" stroke-linejoin="round" clip-path="url(#c0)"/>
<path d="M100.0,964.2 C100.5,963.7 101.6,959.8 103.3,960.9 C104.9,962.0 105.2,969.7 109.9,970.8 C114.5,971.9 125.8,967.0 131.2,967.5 C136.7,968.1 137.0,971.9 142.7,974.1 C148.5,976.3 160.3,978.5 165.7,980.7 C171.2,982.9 172.3,982.9 175.6,987.2 C178.9,991.6 181.6,999.3 185.5,1007.0 C189.3,1014.6 194.2,1027.2 198.6,1033.3 C203.0,1039.3 207.4,1039.8 211.8,1043.1 C216.2,1046.4 221.1,1050.8 224.9,1053.0 C228.8,1055.2 230.9,1056.0 234.8,1056.3 C238.6,1056.5 242.5,1054.4 247.9,1054.6 C253.4,1054.9 260.5,1059.0 267.7,1057.9 C274.8,1056.8 283.0,1049.4 290.7,1048.1 C298.3,1046.7 306.0,1050.0 313.7,1049.7 C321.3,1049.4 330.1,1046.7 336.7,1046.4 C343.3,1046.1 348.2,1049.7 353.1,1048.1 C358.1,1046.4 361.9,1040.7 366.3,1036.5 C370.7,1032.4 375.6,1025.0 379.4,1023.4 C383.3,1021.8 385.4,1024.5 389.3,1026.7 C393.1,1028.9 397.5,1034.4 402.4,1036.5 C407.4,1038.7 413.7,1039.8 418.9,1039.8 C424.0,1039.9 428.7,1038.5 433.3,1036.9 C438.0,1035.3 441.7,1031.6 446.7,1030.2 C451.7,1028.8 458.9,1030.8 463.4,1028.6 C467.8,1026.3 468.9,1023.0 473.4,1016.9 C477.8,1010.8 484.5,996.3 490.1,991.9 C495.6,987.4 502.3,992.7 506.8,990.2 C511.2,987.7 513.4,983.0 516.8,976.9 C520.1,970.7 523.7,959.9 526.8,953.5 C529.8,947.1 531.8,940.7 535.1,938.5 C538.5,936.3 543.7,939.3 546.8,940.2 C549.9,941.0 550.1,943.5 553.5,943.5 C556.8,943.5 562.4,941.8 566.8,940.2 C571.3,938.5 575.7,936.8 580.2,933.5 C584.6,930.1 588.5,924.6 593.5,920.1 C598.5,915.7 605.7,909.6 610.2,906.8 C614.6,904.0 616.3,902.9 620.2,903.4 C624.1,904.0 629.1,908.5 633.5,910.1 C638.0,911.8 642.4,911.8 646.9,913.5 C651.3,915.1 655.8,916.8 660.2,920.1 C664.7,923.5 669.1,931.8 673.6,933.5 C678.0,935.1 682.5,931.8 686.9,930.1 C691.4,928.5 695.8,925.7 700.3,923.5 C704.7,921.2 708.6,918.2 713.6,916.8 C718.6,915.4 724.2,916.5 730.3,915.1 C736.4,913.7 747.0,909.6 750.3,908.5" fill="none" stroke="#1a7cf0" stroke-width="3.3" stroke-linejoin="round" clip-path="url(#c0)"/>
<path d="M100.0,980.7 C101.6,978.7 106.6,972.4 109.9,969.2 C113.1,965.9 116.2,963.1 119.7,960.9 C123.3,958.7 127.4,956.0 131.2,956.0 C135.1,956.0 138.9,957.9 142.7,960.9 C146.6,964.0 150.7,970.9 154.2,974.1 C157.8,977.3 160.8,980.0 164.1,980.0 C167.4,980.0 170.7,977.8 174.0,974.1 C177.3,970.4 180.3,965.3 183.8,957.7 C187.4,950.0 191.2,937.9 195.3,928.1 C199.4,918.2 204.1,907.0 208.5,898.5 C212.9,890.0 217.2,882.6 221.6,877.1 C226.0,871.6 230.9,869.4 234.8,865.6 C238.6,861.8 241.1,857.4 244.6,854.1 C248.2,850.8 252.3,846.4 256.1,845.9 C260.0,845.3 263.0,847.0 267.7,850.8 C272.3,854.7 279.2,863.1 284.1,868.9 C289.0,874.6 292.9,881.8 297.2,885.3 C301.6,888.9 304.9,887.2 310.4,890.3 C315.9,893.3 324.6,901.5 330.1,903.4 C335.6,905.3 338.3,903.1 343.3,901.8 C348.2,900.4 354.2,899.3 359.7,895.2 C365.2,891.1 371.8,879.0 376.1,877.1 C380.5,875.2 382.2,879.9 386.0,883.7 C389.8,887.5 393.7,895.7 399.1,900.1 C404.6,904.5 413.2,906.7 418.9,910.0 C424.6,913.3 429.3,917.6 433.3,920.1 C437.4,922.7 439.5,925.7 443.4,925.1 C447.2,924.6 451.7,918.7 456.7,916.8 C461.7,914.8 468.4,914.8 473.4,913.5 C478.4,912.1 482.3,909.8 486.7,908.5 C491.2,907.1 496.2,904.3 500.1,905.1 C504.0,905.9 506.8,910.4 510.1,913.5 C513.4,916.5 516.2,919.0 520.1,923.5 C524.0,927.9 529.0,934.6 533.4,940.2 C537.9,945.7 542.9,953.2 546.8,956.8 C550.7,960.4 553.5,959.3 556.8,961.8 C560.1,964.3 562.9,968.2 566.8,971.8 C570.7,975.5 576.3,982.7 580.2,983.5 C584.1,984.4 586.8,979.9 590.2,976.9 C593.5,973.8 596.3,966.6 600.2,965.2 C604.1,963.8 609.1,966.8 613.5,968.5 C618.0,970.2 621.9,973.0 626.9,975.2 C631.9,977.4 638.0,982.1 643.6,981.9 C649.1,981.6 655.2,973.2 660.2,973.5 C665.2,973.8 669.1,981.6 673.6,983.5 C678.0,985.5 682.5,986.3 686.9,985.2 C691.4,984.1 695.8,979.4 700.3,976.9 C704.7,974.4 709.2,972.1 713.6,970.2 C718.1,968.2 722.5,967.7 727.0,965.2 C731.4,962.7 736.4,956.0 740.3,955.2 C744.2,954.3 748.7,959.3 750.3,960.2" fill="none" stroke="#c4001c" stroke-width="3.5" stroke-linejoin="round" clip-path="url(#c0)"/>
<path d="M100.0,1228.9 C102.2,1230.3 108.8,1234.4 113.1,1237.1 C117.5,1239.9 121.9,1242.0 126.3,1245.3 C130.7,1248.6 135.1,1255.2 139.4,1256.8 C143.8,1258.5 148.2,1255.2 152.6,1255.2 C157.0,1255.2 160.8,1256.6 165.7,1256.8 C170.7,1257.1 177.3,1256.6 182.2,1256.8 C187.1,1257.1 191.5,1257.4 195.3,1258.5 C199.2,1259.6 202.2,1261.2 205.2,1263.4 C208.2,1265.6 210.1,1270.3 213.4,1271.6 C216.7,1273.0 221.4,1273.0 224.9,1271.6 C228.5,1270.3 231.5,1265.1 234.8,1263.4 C238.1,1261.8 240.8,1263.7 244.6,1261.8 C248.5,1259.9 253.4,1256.0 257.8,1251.9 C262.2,1247.8 266.6,1239.3 270.9,1237.1 C275.3,1234.9 279.2,1238.9 284.1,1238.8 C289.0,1238.6 296.1,1235.6 300.5,1236.1 C304.9,1236.7 306.0,1238.9 310.4,1242.0 C314.8,1245.2 321.3,1255.2 326.8,1255.2 C332.3,1255.2 338.9,1244.8 343.3,1242.0 C347.6,1239.3 348.7,1238.5 353.1,1238.8 C357.5,1239.0 364.6,1241.8 369.6,1243.7 C374.5,1245.6 378.9,1248.3 382.7,1250.3 C386.5,1252.2 388.7,1255.2 392.6,1255.2 C396.4,1255.2 401.9,1251.4 405.7,1250.3 C409.6,1249.2 410.4,1247.3 415.6,1248.6 C420.7,1250.0 430.4,1257.1 436.7,1258.4 C443.0,1259.8 448.9,1257.6 453.4,1256.8 C457.8,1255.9 459.5,1255.0 463.4,1253.4 C467.3,1251.9 471.7,1247.2 476.7,1247.4 C481.7,1247.7 488.4,1254.9 493.4,1255.1 C498.4,1255.3 502.3,1251.5 506.8,1248.4 C511.2,1245.4 515.7,1239.5 520.1,1236.8 C524.5,1234.0 529.6,1231.5 533.4,1231.7 C537.3,1232.0 540.1,1236.0 543.5,1238.4 C546.8,1240.8 549.6,1246.4 553.5,1246.1 C557.4,1245.8 561.3,1241.1 566.8,1236.8 C572.4,1232.4 581.3,1223.7 586.8,1220.1 C592.4,1216.5 595.7,1213.4 600.2,1215.1 C604.6,1216.7 609.1,1224.5 613.5,1230.1 C618.0,1235.6 622.4,1245.2 626.9,1248.4 C631.3,1251.7 635.8,1250.0 640.2,1249.4 C644.7,1248.9 649.1,1245.0 653.6,1245.1 C658.0,1245.2 661.9,1248.8 666.9,1250.1 C671.9,1251.4 677.5,1251.1 683.6,1252.8 C689.7,1254.4 697.5,1260.6 703.6,1260.1 C709.7,1259.7 715.3,1253.7 720.3,1250.1 C725.3,1246.5 729.8,1241.3 733.6,1238.4 C737.5,1235.5 740.9,1232.5 743.7,1232.7 C746.4,1233.0 749.2,1238.9 750.3,1240.1" fill="none" stroke="#1a7cf0" stroke-width="3.3" stroke-linejoin="round" clip-path="url(#c1)"/>
<path d="M100.0,1283.1 C102.7,1283.4 112.1,1285.1 116.4,1284.8 C120.8,1284.5 123.0,1284.0 126.3,1281.5 C129.6,1279.0 132.9,1273.5 136.2,1270.0 C139.4,1266.4 143.0,1262.9 146.0,1260.1 C149.0,1257.4 151.0,1254.6 154.2,1253.6 C157.5,1252.5 161.6,1252.5 165.7,1253.6 C169.9,1254.6 174.5,1257.4 178.9,1260.1 C183.3,1262.9 187.7,1269.2 192.0,1270.0 C196.4,1270.8 200.8,1266.7 205.2,1265.1 C209.6,1263.4 212.9,1261.8 218.3,1260.1 C223.8,1258.5 232.6,1255.5 238.1,1255.2 C243.5,1254.9 245.7,1257.1 251.2,1258.5 C256.7,1259.9 266.0,1261.8 270.9,1263.4 C275.9,1265.1 276.4,1267.8 280.8,1268.3 C285.2,1268.9 291.8,1268.1 297.2,1266.7 C302.7,1265.3 309.3,1258.8 313.7,1260.1 C318.1,1261.5 320.2,1270.0 323.5,1274.9 C326.8,1279.8 329.6,1286.4 333.4,1289.7 C337.2,1293.0 342.7,1293.5 346.5,1294.6 C350.4,1295.7 353.1,1297.4 356.4,1296.3 C359.7,1295.2 362.4,1290.8 366.3,1288.1 C370.1,1285.3 375.0,1280.1 379.4,1279.8 C383.8,1279.6 387.1,1286.4 392.6,1286.4 C398.0,1286.4 405.5,1278.1 412.3,1279.8 C419.1,1281.6 427.6,1292.3 433.3,1296.8 C439.1,1301.3 440.6,1305.7 446.7,1306.8 C452.8,1307.9 463.4,1303.2 470.1,1303.5 C476.7,1303.8 480.6,1306.0 486.7,1308.5 C492.9,1311.0 501.2,1318.8 506.8,1318.5 C512.3,1318.2 515.7,1309.9 520.1,1306.8 C524.5,1303.8 529.0,1299.9 533.4,1300.2 C537.9,1300.4 542.3,1306.5 546.8,1308.5 C551.2,1310.4 555.1,1311.6 560.1,1311.8 C565.1,1312.1 570.7,1313.5 576.8,1310.2 C582.9,1306.8 591.3,1294.6 596.8,1291.8 C602.4,1289.0 605.2,1292.1 610.2,1293.5 C615.2,1294.9 621.9,1299.6 626.9,1300.2 C631.9,1300.7 635.8,1297.9 640.2,1296.8 C644.7,1295.7 649.1,1295.1 653.6,1293.5 C658.0,1291.8 661.4,1289.3 666.9,1286.8 C672.5,1284.3 681.4,1279.3 686.9,1278.5 C692.5,1277.6 695.8,1279.3 700.3,1281.8 C704.7,1284.3 708.1,1290.1 713.6,1293.5 C719.2,1296.8 727.5,1296.8 733.6,1301.8 C739.8,1306.8 747.5,1319.9 750.3,1323.5" fill="none" stroke="#c4001c" stroke-width="3.5" stroke-linejoin="round" clip-path="url(#c1)"/>
<path d="M100.0,1603.3 C101.6,1603.5 106.6,1605.5 109.9,1604.9 C113.1,1604.4 115.9,1601.4 119.7,1600.0 C123.6,1598.6 129.0,1595.3 132.9,1596.7 C136.7,1598.1 138.9,1603.8 142.7,1608.2 C146.6,1612.6 150.4,1620.0 155.9,1623.0 C161.4,1626.0 170.1,1626.6 175.6,1626.3 C181.1,1626.0 184.9,1622.5 188.8,1621.4 C192.6,1620.3 194.8,1619.7 198.6,1619.7 C202.5,1619.7 207.4,1622.7 211.8,1621.4 C216.2,1620.0 220.5,1614.0 224.9,1611.5 C229.3,1609.0 233.7,1607.7 238.1,1606.6 C242.5,1605.5 246.8,1606.6 251.2,1604.9 C255.6,1603.3 260.0,1598.9 264.4,1596.7 C268.7,1594.5 273.1,1591.5 277.5,1591.8 C281.9,1592.0 286.3,1595.9 290.7,1598.3 C295.0,1600.8 299.4,1605.5 303.8,1606.6 C308.2,1607.7 312.6,1606.8 317.0,1604.9 C321.3,1603.0 326.3,1597.8 330.1,1595.1 C333.9,1592.3 336.7,1588.8 340.0,1588.5 C343.3,1588.2 346.0,1591.2 349.8,1593.4 C353.7,1595.6 358.6,1599.4 363.0,1601.6 C367.4,1603.8 371.8,1604.9 376.1,1606.6 C380.5,1608.2 384.9,1611.8 389.3,1611.5 C393.7,1611.2 398.0,1606.6 402.4,1604.9 C406.8,1603.3 408.2,1602.4 415.6,1601.6 C423.0,1600.8 438.2,1602.0 446.7,1600.1 C455.2,1598.2 460.0,1592.1 466.7,1590.1 C473.4,1588.2 480.1,1589.3 486.7,1588.4 C493.4,1587.6 500.1,1586.2 506.8,1585.1 C513.4,1584.0 520.1,1583.2 526.8,1581.8 C533.4,1580.4 541.2,1577.6 546.8,1576.8 C552.4,1575.9 555.7,1574.5 560.1,1576.8 C564.6,1579.0 569.6,1586.8 573.5,1590.1 C577.4,1593.4 580.2,1597.3 583.5,1596.8 C586.8,1596.2 590.8,1589.0 593.5,1586.8 C596.3,1584.5 597.4,1584.7 600.0,1583.3 C602.6,1582.0 605.4,1579.4 609.3,1578.7 C613.1,1577.9 619.6,1580.0 623.2,1578.7 C626.8,1577.4 627.5,1573.9 630.9,1570.9 C634.2,1568.0 639.1,1561.9 643.2,1560.9 C647.3,1559.9 651.7,1563.5 655.6,1564.8 C659.4,1566.1 662.8,1566.6 666.4,1568.6 C670.0,1570.7 673.6,1575.3 677.2,1577.1 C680.8,1578.9 684.1,1579.8 688.0,1579.4 C691.9,1579.1 696.5,1574.4 700.4,1574.8 C704.2,1575.2 707.0,1579.3 711.2,1581.8 C715.3,1584.2 720.9,1588.3 725.1,1589.5 C729.2,1590.6 732.5,1589.3 735.9,1588.7 C739.2,1588.1 741.9,1586.0 745.1,1585.6 C748.3,1585.3 753.4,1586.5 755.0,1586.7" fill="none" stroke="#5a2a06" stroke-width="3.3" stroke-linejoin="round" clip-path="url(#c2)"/>
<path d="M100.0,1590.1 C101.1,1591.8 103.3,1598.1 106.6,1600.0 C109.9,1601.9 115.3,1601.9 119.7,1601.6 C124.1,1601.4 127.4,1599.2 132.9,1598.3 C138.4,1597.5 147.1,1598.9 152.6,1596.7 C158.1,1594.5 161.4,1589.9 165.7,1585.2 C170.1,1580.5 175.1,1572.2 178.9,1568.8 C182.7,1565.4 185.5,1564.8 188.8,1564.8 C192.0,1564.8 194.8,1566.5 198.6,1568.8 C202.5,1571.1 207.9,1576.4 211.8,1578.6 C215.6,1580.8 217.8,1582.2 221.6,1581.9 C225.5,1581.6 230.9,1577.0 234.8,1577.0 C238.6,1577.0 241.9,1579.7 244.6,1581.9 C247.4,1584.1 247.9,1590.7 251.2,1590.1 C254.5,1589.6 260.0,1582.2 264.4,1578.6 C268.7,1575.1 273.1,1572.0 277.5,1568.8 C281.9,1565.5 286.8,1562.2 290.7,1558.9 C294.5,1555.6 297.2,1549.9 300.5,1549.0 C303.8,1548.2 306.6,1552.3 310.4,1554.0 C314.2,1555.6 319.7,1558.1 323.5,1558.9 C327.4,1559.7 330.1,1557.5 333.4,1558.9 C336.7,1560.3 339.4,1564.1 343.3,1567.1 C347.1,1570.1 352.0,1575.9 356.4,1577.0 C360.8,1578.1 365.2,1575.1 369.6,1573.7 C373.9,1572.3 378.3,1570.7 382.7,1568.8 C387.1,1566.8 391.5,1563.8 395.9,1562.2 C400.2,1560.5 401.6,1559.2 409.0,1558.9 C416.4,1558.5 431.5,1559.0 440.0,1560.1 C448.5,1561.1 453.4,1564.5 460.0,1565.1 C466.7,1565.6 475.1,1563.1 480.1,1563.4 C485.1,1563.7 486.7,1564.5 490.1,1566.8 C493.4,1569.0 496.7,1573.7 500.1,1576.8 C503.4,1579.8 506.2,1584.0 510.1,1585.1 C514.0,1586.2 519.0,1583.4 523.4,1583.4 C527.9,1583.4 531.8,1584.3 536.8,1585.1 C541.8,1585.9 548.5,1587.6 553.5,1588.4 C558.5,1589.3 562.4,1589.8 566.8,1590.1 C571.3,1590.4 575.7,1591.2 580.2,1590.1 C584.6,1589.0 590.2,1585.1 593.5,1583.4 C596.8,1581.8 595.8,1582.6 600.0,1580.2 C604.2,1577.9 612.4,1570.4 618.5,1569.4 C624.7,1568.4 631.4,1574.0 637.1,1574.0 C642.7,1574.0 648.4,1569.7 652.5,1569.4 C656.6,1569.1 658.7,1569.7 661.8,1572.5 C664.8,1575.3 666.9,1581.9 671.0,1586.4 C675.1,1590.9 681.8,1599.5 686.5,1599.5 C691.1,1599.5 694.7,1590.5 698.8,1586.4 C702.9,1582.3 707.0,1575.8 711.2,1574.8 C715.3,1573.8 719.4,1578.0 723.5,1580.2 C727.6,1582.4 731.5,1584.3 735.9,1587.9 C740.2,1591.5 746.6,1598.7 749.8,1601.8 C753.0,1604.9 754.1,1605.7 755.0,1606.5" fill="none" stroke="#3a10f0" stroke-width="3.3" stroke-linejoin="round" clip-path="url(#c2)"/>
<line x1="102.0" y1="781.9" x2="102.0" y2="1122.5" stroke="#555" stroke-width="1.5"/>
<line x1="750.4" y1="781.9" x2="750.4" y2="1122.5" stroke="#555" stroke-width="1.5"/>
<line x1="95.0" y1="846.0" x2="102.0" y2="846.0" stroke="#555" stroke-width="1.4"/>
<text x="89.6" y="852.0" font-family="Liberation Sans" font-size="17" text-anchor="end" fill="#1a1a1a" stroke="#1a1a1a" stroke-width="0.3">20</text>
<line x1="95.0" y1="910.3" x2="102.0" y2="910.3" stroke="#555" stroke-width="1.4"/>
<line x1="95.0" y1="974.6" x2="102.0" y2="974.6" stroke="#555" stroke-width="1.4"/>
<text x="89.6" y="980.6" font-family="Liberation Sans" font-size="17" text-anchor="end" fill="#1a1a1a" stroke="#1a1a1a" stroke-width="0.3">0</text>
<line x1="95.0" y1="1038.9" x2="102.0" y2="1038.9" stroke="#555" stroke-width="1.4"/>
<line x1="95.0" y1="1103.2" x2="102.0" y2="1103.2" stroke="#555" stroke-width="1.4"/>
<text x="89.6" y="1109.2" font-family="Liberation Sans" font-size="17" text-anchor="end" fill="#1a1a1a" stroke="#1a1a1a" stroke-width="0.3">−20</text>
<line x1="102.0" y1="1152.3" x2="102.0" y2="1445.6" stroke="#555" stroke-width="1.5"/>
<line x1="750.4" y1="1152.3" x2="750.4" y2="1445.6" stroke="#555" stroke-width="1.5"/>
<line x1="95.0" y1="1172.1" x2="102.0" y2="1172.1" stroke="#555" stroke-width="1.4"/>
<text x="89.6" y="1178.1" font-family="Liberation Sans" font-size="17" text-anchor="end" fill="#1a1a1a" stroke="#1a1a1a" stroke-width="0.3">20</text>
<line x1="95.0" y1="1236.4" x2="102.0" y2="1236.4" stroke="#555" stroke-width="1.4"/>
<line x1="95.0" y1="1300.7" x2="102.0" y2="1300.7" stroke="#555" stroke-width="1.4"/>
<text x="89.6" y="1306.7" font-family="Liberation Sans" font-size="17" text-anchor="end" fill="#1a1a1a" stroke="#1a1a1a" stroke-width="0.3">0</text>
<line x1="95.0" y1="1365.0" x2="102.0" y2="1365.0" stroke="#555" stroke-width="1.4"/>
<line x1="95.0" y1="1429.3" x2="102.0" y2="1429.3" stroke="#555" stroke-width="1.4"/>
<text x="89.6" y="1435.3" font-family="Liberation Sans" font-size="17" text-anchor="end" fill="#1a1a1a" stroke="#1a1a1a" stroke-width="0.3">−20</text>
<line x1="102.0" y1="1475.8" x2="102.0" y2="1750.4" stroke="#555" stroke-width="1.5"/>
<line x1="750.4" y1="1475.8" x2="750.4" y2="1750.4" stroke="#555" stroke-width="1.5"/>
<line x1="95.0" y1="1492.8" x2="102.0" y2="1492.8" stroke="#555" stroke-width="1.4"/>
<text x="89.6" y="1498.8" font-family="Liberation Sans" font-size="17" text-anchor="end" fill="#1a1a1a" stroke="#1a1a1a" stroke-width="0.3">20</text>
<line x1="95.0" y1="1557.1" x2="102.0" y2="1557.1" stroke="#555" stroke-width="1.4"/>
<line x1="95.0" y1="1621.4" x2="102.0" y2="1621.4" stroke="#555" stroke-width="1.4"/>
<text x="89.6" y="1627.4" font-family="Liberation Sans" font-size="17" text-anchor="end" fill="#1a1a1a" stroke="#1a1a1a" stroke-width="0.3">0</text>
<line x1="95.0" y1="1685.7" x2="102.0" y2="1685.7" stroke="#555" stroke-width="1.4"/>
<line x1="95.0" y1="1750.0" x2="102.0" y2="1750.0" stroke="#555" stroke-width="1.4"/>
<text x="89.6" y="1756.0" font-family="Liberation Sans" font-size="17" text-anchor="end" fill="#1a1a1a" stroke="#1a1a1a" stroke-width="0.3">−20</text>
<line x1="102.0" y1="781.9" x2="750.4" y2="781.9" stroke="#555" stroke-width="1.5"/>
<line x1="102.0" y1="1750.4" x2="750.4" y2="1750.4" stroke="#555" stroke-width="1.5"/>
<line x1="102.0" y1="1750.4" x2="102.0" y2="1757.4" stroke="#555" stroke-width="1.4"/>
<text x="102.0" y="1779.6" font-family="Liberation Sans" font-size="17" text-anchor="middle" fill="#1a1a1a" stroke="#1a1a1a" stroke-width="0.3">0</text>
<line x1="188.4" y1="1750.4" x2="188.4" y2="1757.4" stroke="#555" stroke-width="1.4"/>
<line x1="274.8" y1="1750.4" x2="274.8" y2="1757.4" stroke="#555" stroke-width="1.4"/>
<text x="274.8" y="1779.6" font-family="Liberation Sans" font-size="17" text-anchor="middle" fill="#1a1a1a" stroke="#1a1a1a" stroke-width="0.3">4</text>
<line x1="361.2" y1="1750.4" x2="361.2" y2="1757.4" stroke="#555" stroke-width="1.4"/>
<line x1="447.6" y1="1750.4" x2="447.6" y2="1757.4" stroke="#555" stroke-width="1.4"/>
<text x="447.6" y="1779.6" font-family="Liberation Sans" font-size="17" text-anchor="middle" fill="#1a1a1a" stroke="#1a1a1a" stroke-width="0.3">8</text>
<line x1="534.0" y1="1750.4" x2="534.0" y2="1757.4" stroke="#555" stroke-width="1.4"/>
<line x1="620.4" y1="1750.4" x2="620.4" y2="1757.4" stroke="#555" stroke-width="1.4"/>
<text x="620.4" y="1779.6" font-family="Liberation Sans" font-size="17" text-anchor="middle" fill="#1a1a1a" stroke="#1a1a1a" stroke-width="0.3">12</text>
<line x1="706.8" y1="1750.4" x2="706.8" y2="1757.4" stroke="#555" stroke-width="1.4"/>
<text x="408" y="1813.2" font-family="Liberation Sans" font-size="22.5" font-style="italic" text-anchor="middle" fill="#111" stroke="#111" stroke-width="0.3">time (s)</text>
<text transform="translate(37.1,1244.7) rotate(-90)" font-family="Liberation Sans" font-size="23" font-style="italic" text-anchor="middle" fill="#111" stroke="#111" stroke-width="0.3">horizontal gaze displacement</text>
<text x="10.5" y="811" font-family="Liberation Sans" font-size="33" font-weight="bold" fill="#000" stroke="#000" stroke-width="0.3">B</text>
<text x="111.5" y="1730.2" font-family="Liberation Sans" font-size="22.7" font-weight="bold" fill="#000" stroke="#000" stroke-width="0.3">Cue</text>
<text x="198.5" y="1730.2" font-family="Liberation Sans" font-size="22.7" font-weight="bold" fill="#000" stroke="#000" stroke-width="0.3">Auditory Task</text>
<text x="544" y="1730.2" font-family="Liberation Sans" font-size="22.7" font-weight="bold" fill="#000" stroke="#000" stroke-width="0.3">Response</text>
<text x="675" y="1730.2" font-family="Liberation Sans" font-size="22.7" font-weight="bold" fill="#000" stroke="#000" stroke-width="0.3">Rest</text>
<text x="815" y="814.7" font-family="Liberation Sans" font-size="20" font-weight="bold" text-anchor="middle" fill="#111" stroke="#111" stroke-width="0.3">Target</text>
<text x="817.9" y="838.4" font-family="Liberation Sans" font-size="20" font-weight="bold" text-anchor="middle" fill="#111" stroke="#111" stroke-width="0.3">Location</text>
<text x="941.8" y="824.7" font-family="Liberation Sans" font-size="20" font-weight="bold" text-anchor="middle" fill="#111" stroke="#111" stroke-width="0.3">Cue</text>
<circle cx="788.0" cy="935.9" r="11.8" fill="#fa9090"/>
<circle cx="816.3" cy="935.9" r="11.8" fill="#c6c6c6"/>
<circle cx="845.3" cy="935.9" r="11.8" fill="#b8ecfa"/>
<text x="788.0" y="969.7" font-family="Liberation Sans" font-size="19" font-weight="bold" text-anchor="middle" fill="#c4102a" stroke="#c4102a" stroke-width="0.3">R</text>
<text x="816.3" y="969.7" font-family="Liberation Sans" font-size="19" font-weight="bold" text-anchor="middle" fill="#b4b4b4" stroke="#b4b4b4" stroke-width="0.3">C</text>
<text x="845.3" y="969.7" font-family="Liberation Sans" font-size="19" font-weight="bold" text-anchor="middle" fill="#2a78ec" stroke="#2a78ec" stroke-width="0.3">L</text>
<circle cx="788.6" cy="1018.0" r="11.8" fill="#9cf09c"/>
<text x="811.5" y="1025.0" font-family="Liberation Sans" font-size="20" font-weight="bold" text-anchor="start" fill="#22dd22" stroke="#22dd22" stroke-width="0.3">Rest</text>
<circle cx="942.5" cy="917.5" r="12.2" fill="#d2d2d2"/>
<circle cx="942.5" cy="959.5" r="12.2" fill="#d2d2d2"/>
<circle cx="921.0" cy="938.5" r="12.2" fill="#000"/>
<circle cx="964.0" cy="938.5" r="12.2" fill="#000"/>
<text x="942.5" y="900.0" font-family="Liberation Sans" font-size="19" font-weight="bold" text-anchor="middle" fill="#c8c8c8" stroke="#c8c8c8" stroke-width="0.3">Hi</text>
<text x="942.5" y="988.5" font-family="Liberation Sans" font-size="19" font-weight="bold" text-anchor="middle" fill="#c8c8c8" stroke="#c8c8c8" stroke-width="0.3">Lo</text>
<text x="896.5" y="945.5" font-family="Liberation Sans" font-size="19" font-weight="bold" text-anchor="middle" fill="#000" stroke="#000" stroke-width="0.3">R</text>
<text x="987.0" y="945.5" font-family="Liberation Sans" font-size="19" font-weight="bold" text-anchor="middle" fill="#000" stroke="#000" stroke-width="0.3">L</text>
<circle cx="788.0" cy="1281.0" r="11.8" fill="#fa9090"/>
<circle cx="816.3" cy="1281.0" r="11.8" fill="#c6c6c6"/>
<circle cx="845.3" cy="1281.0" r="11.8" fill="#b8ecfa"/>
<text x="788.0" y="1314.8" font-family="Liberation Sans" font-size="19" font-weight="bold" text-anchor="middle" fill="#c4102a" stroke="#c4102a" stroke-width="0.3">R</text>
<text x="816.3" y="1314.8" font-family="Liberation Sans" font-size="19" font-weight="bold" text-anchor="middle" fill="#b4b4b4" stroke="#b4b4b4" stroke-width="0.3">C</text>
<text x="845.3" y="1314.8" font-family="Liberation Sans" font-size="19" font-weight="bold" text-anchor="middle" fill="#2a78ec" stroke="#2a78ec" stroke-width="0.3">L</text>
<circle cx="943.0" cy="1260.0" r="12.2" fill="#000"/>
<circle cx="943.0" cy="1302.0" r="12.2" fill="#000"/>
<circle cx="921.5" cy="1281.0" r="12.2" fill="#d2d2d2"/>
<circle cx="964.5" cy="1281.0" r="12.2" fill="#d2d2d2"/>
<text x="943.0" y="1242.5" font-family="Liberation Sans" font-size="19" font-weight="bold" text-anchor="middle" fill="#000" stroke="#000" stroke-width="0.3">Hi</text>
<text x="943.0" y="1331.0" font-family="Liberation Sans" font-size="19" font-weight="bold" text-anchor="middle" fill="#000" stroke="#000" stroke-width="0.3">Lo</text>
<text x="897.0" y="1288.0" font-family="Liberation Sans" font-size="19" font-weight="bold" text-anchor="middle" fill="#c8c8c8" stroke="#c8c8c8" stroke-width="0.3">R</text>
<text x="987.5" y="1288.0" font-family="Liberation Sans" font-size="19" font-weight="bold" text-anchor="middle" fill="#c8c8c8" stroke="#c8c8c8" stroke-width="0.3">L</text>
<circle cx="788.0" cy="1600.2" r="11.8" fill="#c6c6c6"/>
<circle cx="816.3" cy="1600.2" r="11.8" fill="#000"/>
<circle cx="845.3" cy="1600.2" r="11.8" fill="#c6c6c6"/>
<text x="788.0" y="1634.0" font-family="Liberation Sans" font-size="19" font-weight="bold" text-anchor="middle" fill="#b4b4b4" stroke="#b4b4b4" stroke-width="0.3">R</text>
<text x="816.3" y="1634.0" font-family="Liberation Sans" font-size="19" font-weight="bold" text-anchor="middle" fill="#000" stroke="#000" stroke-width="0.3">C</text>
<text x="845.3" y="1634.0" font-family="Liberation Sans" font-size="19" font-weight="bold" text-anchor="middle" fill="#b4b4b4" stroke="#b4b4b4" stroke-width="0.3">L</text>
<circle cx="943.0" cy="1580.0" r="12.2" fill="#5400fa"/>
<circle cx="943.0" cy="1622.0" r="12.2" fill="#a87840"/>
<circle cx="921.5" cy="1601.0" r="12.2" fill="#d2d2d2"/>
<circle cx="964.5" cy="1601.0" r="12.2" fill="#d2d2d2"/>
<text x="943.0" y="1562.5" font-family="Liberation Sans" font-size="19" font-weight="bold" text-anchor="middle" fill="#4a10f0" stroke="#4a10f0" stroke-width="0.3">Hi</text>
<text x="943.0" y="1651.0" font-family="Liberation Sans" font-size="19" font-weight="bold" text-anchor="middle" fill="#5a2a00" stroke="#5a2a00" stroke-width="0.3">Lo</text>
<text x="897.0" y="1608.0" font-family="Liberation Sans" font-size="19" font-weight="bold" text-anchor="middle" fill="#c8c8c8" stroke="#c8c8c8" stroke-width="0.3">R</text>
<text x="987.5" y="1608.0" font-family="Liberation Sans" font-size="19" font-weight="bold" text-anchor="middle" fill="#c8c8c8" stroke="#c8c8c8" stroke-width="0.3">L</text>
</svg></body></html>
